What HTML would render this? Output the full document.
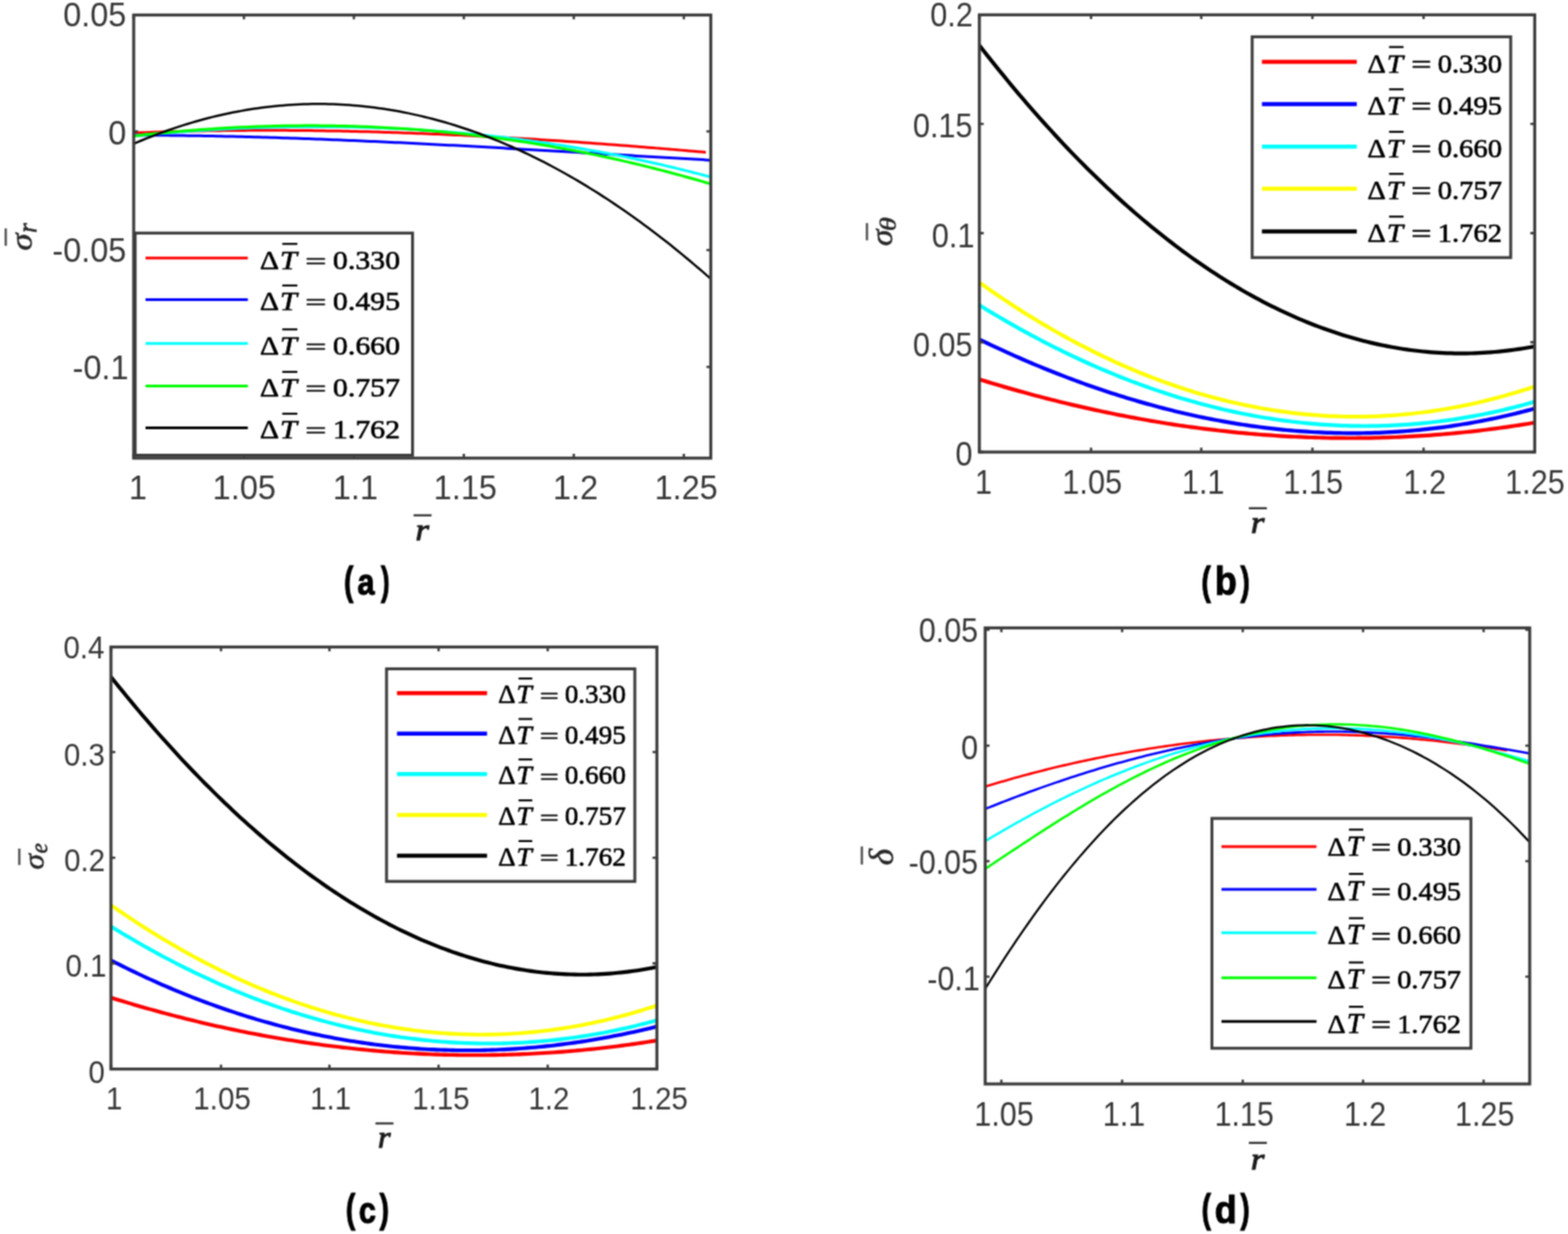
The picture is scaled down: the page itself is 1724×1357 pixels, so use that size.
<!DOCTYPE html>
<html lang="en"><head><meta charset="utf-8"><title>Figure</title>
<style>
html,body{margin:0;padding:0;background:#fff;}
body{width:1724px;height:1357px;overflow:hidden;font-family:"Liberation Sans",sans-serif;}
svg{display:block;}
text{white-space:pre;}
</style></head>
<body>
<svg xmlns="http://www.w3.org/2000/svg" width="1724" height="1357" viewBox="0 0 1724 1357">
<defs><filter id="soft" x="0" y="0" width="1724" height="1357" filterUnits="userSpaceOnUse" color-interpolation-filters="sRGB"><feConvolveMatrix order="3" kernelMatrix="1 2 1 2 4 2 1 2 1" divisor="16" edgeMode="duplicate" preserveAlpha="true"/></filter></defs>
<rect width="1724" height="1357" fill="#fff"/>
<g filter="url(#soft)">
<rect width="1724" height="1357" fill="#fff"/>
<clipPath id="ca"><rect x="147.0" y="16.5" width="634.5" height="487.3"/></clipPath>
<g clip-path="url(#ca)" fill="none" stroke-width="3.0" stroke-linejoin="round">
<path d="M147.0,146.22 L151.5,146.04 L156.1,145.86 L160.6,145.69 L165.1,145.53 L169.6,145.37 L174.2,145.22 L178.7,145.07 L183.2,144.93 L187.7,144.80 L192.3,144.67 L196.8,144.55 L201.3,144.43 L205.8,144.32 L210.4,144.22 L214.9,144.12 L219.4,144.03 L223.9,143.94 L228.5,143.86 L233.0,143.78 L237.5,143.71 L242.0,143.65 L246.6,143.59 L251.1,143.54 L255.6,143.49 L260.1,143.45 L264.7,143.41 L269.2,143.38 L273.7,143.36 L278.2,143.34 L282.8,143.32 L287.3,143.32 L291.8,143.31 L296.3,143.31 L300.9,143.32 L305.4,143.33 L309.9,143.35 L314.4,143.37 L319.0,143.40 L323.5,143.43 L328.0,143.47 L332.5,143.51 L337.1,143.56 L341.6,143.61 L346.1,143.67 L350.6,143.74 L355.2,143.80 L359.7,143.88 L364.2,143.95 L368.7,144.04 L373.3,144.12 L377.8,144.21 L382.3,144.31 L386.8,144.41 L391.4,144.52 L395.9,144.63 L400.4,144.74 L404.9,144.86 L409.5,144.99 L414.0,145.12 L418.5,145.25 L423.0,145.39 L427.6,145.53 L432.1,145.68 L436.6,145.83 L441.1,145.98 L445.7,146.14 L450.2,146.31 L454.7,146.48 L459.2,146.65 L463.8,146.83 L468.3,147.01 L472.8,147.19 L477.3,147.38 L481.9,147.57 L486.4,147.77 L490.9,147.97 L495.4,148.18 L500.0,148.39 L504.5,148.60 L509.0,148.82 L513.5,149.04 L518.1,149.26 L522.6,149.49 L527.1,149.73 L531.6,149.96 L536.2,150.20 L540.7,150.44 L545.2,150.69 L549.7,150.94 L554.3,151.20 L558.8,151.46 L563.3,151.72 L567.8,151.98 L572.4,152.25 L576.9,152.52 L581.4,152.80 L585.9,153.08 L590.5,153.36 L595.0,153.65 L599.5,153.94 L604.0,154.23 L608.6,154.52 L613.1,154.82 L617.6,155.12 L622.1,155.43 L626.7,155.74 L631.2,156.05 L635.7,156.36 L640.2,156.68 L644.8,157.00 L649.3,157.32 L653.8,157.65 L658.3,157.98 L662.9,158.31 L667.4,158.65 L671.9,158.98 L676.4,159.33 L681.0,159.67 L685.5,160.02 L690.0,160.36 L694.5,160.72 L699.1,161.07 L703.6,161.43 L708.1,161.79 L712.6,162.15 L717.2,162.51 L721.7,162.88 L726.2,163.25 L730.7,163.62 L735.3,164.00 L739.8,164.37 L744.3,164.75 L748.8,165.13 L753.4,165.52 L757.9,165.90 L762.4,166.29 L766.9,166.68 L771.5,167.08 L776.0,167.47" stroke="#ff0000"/>
<path d="M147.0,148.65 L151.6,148.66 L156.1,148.68 L160.7,148.70 L165.3,148.72 L169.8,148.75 L174.4,148.79 L179.0,148.83 L183.5,148.87 L188.1,148.92 L192.6,148.97 L197.2,149.02 L201.8,149.08 L206.3,149.15 L210.9,149.22 L215.5,149.29 L220.0,149.36 L224.6,149.44 L229.2,149.53 L233.7,149.61 L238.3,149.71 L242.9,149.80 L247.4,149.90 L252.0,150.00 L256.6,150.11 L261.1,150.22 L265.7,150.33 L270.2,150.45 L274.8,150.57 L279.4,150.69 L283.9,150.82 L288.5,150.95 L293.1,151.08 L297.6,151.22 L302.2,151.36 L306.8,151.50 L311.3,151.65 L315.9,151.80 L320.5,151.95 L325.0,152.11 L329.6,152.26 L334.2,152.43 L338.7,152.59 L343.3,152.76 L347.8,152.93 L352.4,153.10 L357.0,153.28 L361.5,153.46 L366.1,153.64 L370.7,153.82 L375.2,154.01 L379.8,154.20 L384.4,154.39 L388.9,154.58 L393.5,154.78 L398.1,154.98 L402.6,155.18 L407.2,155.38 L411.8,155.59 L416.3,155.79 L420.9,156.01 L425.4,156.22 L430.0,156.43 L434.6,156.65 L439.1,156.87 L443.7,157.09 L448.3,157.31 L452.8,157.53 L457.4,157.76 L462.0,157.99 L466.5,158.22 L471.1,158.45 L475.7,158.68 L480.2,158.92 L484.8,159.15 L489.4,159.39 L493.9,159.63 L498.5,159.87 L503.1,160.12 L507.6,160.36 L512.2,160.61 L516.7,160.85 L521.3,161.10 L525.9,161.35 L530.4,161.60 L535.0,161.85 L539.6,162.11 L544.1,162.36 L548.7,162.62 L553.3,162.87 L557.8,163.13 L562.4,163.39 L567.0,163.65 L571.5,163.91 L576.1,164.17 L580.7,164.43 L585.2,164.69 L589.8,164.96 L594.3,165.22 L598.9,165.49 L603.5,165.75 L608.0,166.02 L612.6,166.28 L617.2,166.55 L621.7,166.82 L626.3,167.08 L630.9,167.35 L635.4,167.62 L640.0,167.89 L644.6,168.16 L649.1,168.43 L653.7,168.70 L658.3,168.96 L662.8,169.23 L667.4,169.50 L671.9,169.77 L676.5,170.04 L681.1,170.31 L685.6,170.58 L690.2,170.85 L694.8,171.12 L699.3,171.39 L703.9,171.65 L708.5,171.92 L713.0,172.19 L717.6,172.46 L722.2,172.72 L726.7,172.99 L731.3,173.26 L735.9,173.52 L740.4,173.79 L745.0,174.05 L749.5,174.31 L754.1,174.58 L758.7,174.84 L763.2,175.10 L767.8,175.36 L772.4,175.62 L776.9,175.88 L781.5,176.13" stroke="#0000ff"/>
<path d="M147.0,149.37 L151.6,148.94 L156.1,148.51 L160.7,148.09 L165.3,147.68 L169.8,147.29 L174.4,146.90 L179.0,146.52 L183.5,146.15 L188.1,145.78 L192.6,145.43 L197.2,145.09 L201.8,144.76 L206.3,144.43 L210.9,144.12 L215.5,143.82 L220.0,143.52 L224.6,143.24 L229.2,142.96 L233.7,142.70 L238.3,142.44 L242.9,142.20 L247.4,141.96 L252.0,141.73 L256.6,141.52 L261.1,141.31 L265.7,141.12 L270.2,140.93 L274.8,140.76 L279.4,140.59 L283.9,140.44 L288.5,140.29 L293.1,140.16 L297.6,140.04 L302.2,139.92 L306.8,139.82 L311.3,139.73 L315.9,139.65 L320.5,139.58 L325.0,139.52 L329.6,139.47 L334.2,139.43 L338.7,139.40 L343.3,139.39 L347.8,139.38 L352.4,139.39 L357.0,139.40 L361.5,139.43 L366.1,139.47 L370.7,139.52 L375.2,139.58 L379.8,139.65 L384.4,139.73 L388.9,139.82 L393.5,139.93 L398.1,140.04 L402.6,140.17 L407.2,140.31 L411.8,140.46 L416.3,140.63 L420.9,140.80 L425.4,140.99 L430.0,141.18 L434.6,141.39 L439.1,141.61 L443.7,141.84 L448.3,142.09 L452.8,142.34 L457.4,142.61 L462.0,142.89 L466.5,143.18 L471.1,143.49 L475.7,143.80 L480.2,144.13 L484.8,144.47 L489.4,144.83 L493.9,145.19 L498.5,145.57 L503.1,145.96 L507.6,146.36 L512.2,146.77 L516.7,147.20 L521.3,147.64 L525.9,148.09 L530.4,148.56 L535.0,149.03 L539.6,149.52 L544.1,150.02 L548.7,150.54 L553.3,151.07 L557.8,151.61 L562.4,152.16 L567.0,152.73 L571.5,153.31 L576.1,153.90 L580.7,154.51 L585.2,155.13 L589.8,155.76 L594.3,156.40 L598.9,157.06 L603.5,157.73 L608.0,158.42 L612.6,159.12 L617.2,159.83 L621.7,160.55 L626.3,161.29 L630.9,162.04 L635.4,162.81 L640.0,163.59 L644.6,164.38 L649.1,165.19 L653.7,166.01 L658.3,166.84 L662.8,167.69 L667.4,168.55 L671.9,169.43 L676.5,170.32 L681.1,171.22 L685.6,172.14 L690.2,173.07 L694.8,174.02 L699.3,174.98 L703.9,175.96 L708.5,176.95 L713.0,177.95 L717.6,178.97 L722.2,180.00 L726.7,181.04 L731.3,182.11 L735.9,183.18 L740.4,184.27 L745.0,185.38 L749.5,186.49 L754.1,187.63 L758.7,188.78 L763.2,189.94 L767.8,191.12 L772.4,192.31 L776.9,193.52 L781.5,194.74" stroke="#00ffff"/>
<path d="M147.0,149.65 L151.6,149.12 L156.1,148.60 L160.7,148.09 L165.3,147.59 L169.8,147.10 L174.4,146.63 L179.0,146.17 L183.5,145.72 L188.1,145.29 L192.6,144.87 L197.2,144.46 L201.8,144.06 L206.3,143.67 L210.9,143.30 L215.5,142.94 L220.0,142.60 L224.6,142.26 L229.2,141.94 L233.7,141.63 L238.3,141.34 L242.9,141.05 L247.4,140.78 L252.0,140.53 L256.6,140.28 L261.1,140.05 L265.7,139.83 L270.2,139.63 L274.8,139.43 L279.4,139.25 L283.9,139.09 L288.5,138.93 L293.1,138.79 L297.6,138.66 L302.2,138.55 L306.8,138.45 L311.3,138.36 L315.9,138.28 L320.5,138.22 L325.0,138.17 L329.6,138.13 L334.2,138.11 L338.7,138.10 L343.3,138.10 L347.8,138.12 L352.4,138.15 L357.0,138.19 L361.5,138.24 L366.1,138.31 L370.7,138.39 L375.2,138.49 L379.8,138.60 L384.4,138.72 L388.9,138.86 L393.5,139.00 L398.1,139.17 L402.6,139.34 L407.2,139.53 L411.8,139.73 L416.3,139.95 L420.9,140.18 L425.4,140.42 L430.0,140.68 L434.6,140.94 L439.1,141.23 L443.7,141.52 L448.3,141.83 L452.8,142.16 L457.4,142.50 L462.0,142.85 L466.5,143.21 L471.1,143.59 L475.7,143.98 L480.2,144.39 L484.8,144.81 L489.4,145.24 L493.9,145.69 L498.5,146.15 L503.1,146.62 L507.6,147.11 L512.2,147.61 L516.7,148.13 L521.3,148.66 L525.9,149.20 L530.4,149.76 L535.0,150.33 L539.6,150.91 L544.1,151.51 L548.7,152.13 L553.3,152.75 L557.8,153.39 L562.4,154.05 L567.0,154.72 L571.5,155.40 L576.1,156.10 L580.7,156.81 L585.2,157.53 L589.8,158.27 L594.3,159.03 L598.9,159.79 L603.5,160.57 L608.0,161.37 L612.6,162.18 L617.2,163.01 L621.7,163.84 L626.3,164.70 L630.9,165.56 L635.4,166.44 L640.0,167.34 L644.6,168.25 L649.1,169.17 L653.7,170.11 L658.3,171.07 L662.8,172.03 L667.4,173.02 L671.9,174.01 L676.5,175.02 L681.1,176.05 L685.6,177.09 L690.2,178.14 L694.8,179.21 L699.3,180.29 L703.9,181.39 L708.5,182.50 L713.0,183.63 L717.6,184.77 L722.2,185.93 L726.7,187.10 L731.3,188.28 L735.9,189.48 L740.4,190.70 L745.0,191.93 L749.5,193.17 L754.1,194.43 L758.7,195.70 L763.2,196.99 L767.8,198.29 L772.4,199.61 L776.9,200.94 L781.5,202.29" stroke="#00ff00"/>
<path d="M147.0,158.12 L151.6,156.17 L156.1,154.26 L160.7,152.40 L165.3,150.58 L169.8,148.80 L174.4,147.08 L179.0,145.39 L183.5,143.75 L188.1,142.16 L192.6,140.61 L197.2,139.10 L201.8,137.64 L206.3,136.22 L210.9,134.85 L215.5,133.53 L220.0,132.24 L224.6,131.01 L229.2,129.81 L233.7,128.66 L238.3,127.56 L242.9,126.50 L247.4,125.48 L252.0,124.51 L256.6,123.58 L261.1,122.70 L265.7,121.86 L270.2,121.07 L274.8,120.32 L279.4,119.61 L283.9,118.95 L288.5,118.34 L293.1,117.76 L297.6,117.23 L302.2,116.75 L306.8,116.31 L311.3,115.91 L315.9,115.56 L320.5,115.25 L325.0,114.99 L329.6,114.77 L334.2,114.59 L338.7,114.46 L343.3,114.37 L347.8,114.32 L352.4,114.32 L357.0,114.36 L361.5,114.45 L366.1,114.58 L370.7,114.76 L375.2,114.97 L379.8,115.24 L384.4,115.54 L388.9,115.89 L393.5,116.28 L398.1,116.72 L402.6,117.20 L407.2,117.72 L411.8,118.29 L416.3,118.90 L420.9,119.55 L425.4,120.25 L430.0,120.99 L434.6,121.78 L439.1,122.60 L443.7,123.47 L448.3,124.39 L452.8,125.35 L457.4,126.35 L462.0,127.39 L466.5,128.48 L471.1,129.61 L475.7,130.79 L480.2,132.00 L484.8,133.26 L489.4,134.57 L493.9,135.91 L498.5,137.30 L503.1,138.74 L507.6,140.21 L512.2,141.73 L516.7,143.29 L521.3,144.90 L525.9,146.55 L530.4,148.24 L535.0,149.97 L539.6,151.75 L544.1,153.57 L548.7,155.43 L553.3,157.33 L557.8,159.28 L562.4,161.27 L567.0,163.30 L571.5,165.38 L576.1,167.50 L580.7,169.66 L585.2,171.86 L589.8,174.11 L594.3,176.40 L598.9,178.73 L603.5,181.11 L608.0,183.52 L612.6,185.98 L617.2,188.49 L621.7,191.03 L626.3,193.62 L630.9,196.25 L635.4,198.92 L640.0,201.63 L644.6,204.39 L649.1,207.19 L653.7,210.03 L658.3,212.91 L662.8,215.83 L667.4,218.80 L671.9,221.81 L676.5,224.86 L681.1,227.96 L685.6,231.09 L690.2,234.27 L694.8,237.49 L699.3,240.75 L703.9,244.06 L708.5,247.40 L713.0,250.79 L717.6,254.22 L722.2,257.70 L726.7,261.21 L731.3,264.77 L735.9,268.36 L740.4,272.00 L745.0,275.68 L749.5,279.41 L754.1,283.17 L758.7,286.98 L763.2,290.83 L767.8,294.72 L772.4,298.65 L776.9,302.62 L781.5,306.64" stroke="#000000" stroke-width="2.5"/>
</g>
<rect x="147.0" y="16.5" width="634.5" height="487.3" fill="none" stroke="#3c3c3c" stroke-width="3.3"/>
<path d="M147.0,503.8v-4.8M147.0,16.5v4.8M268.2,503.8v-4.8M268.2,16.5v4.8M389.1,503.8v-4.8M389.1,16.5v4.8M510.0,503.8v-4.8M510.0,16.5v4.8M630.9,503.8v-4.8M630.9,16.5v4.8M751.9,503.8v-4.8M751.9,16.5v4.8M147.0,16.5h4.8M781.5,16.5h-4.8M147.0,144.5h4.8M781.5,144.5h-4.8M147.0,275.0h4.8M781.5,275.0h-4.8M147.0,403.5h4.8M781.5,403.5h-4.8" stroke="#3c3c3c" stroke-width="2.6" fill="none"/>
<text transform="translate(141.81,548.84) scale(0.3570,0.3606)" font-family="'Liberation Sans', sans-serif" font-size="100" fill="#383838">1</text>
<text transform="translate(233.86,548.84) scale(0.3570,0.3606)" font-family="'Liberation Sans', sans-serif" font-size="100" fill="#383838">1.05</text>
<text transform="translate(366.01,548.84) scale(0.3570,0.3606)" font-family="'Liberation Sans', sans-serif" font-size="100" fill="#383838">1.1</text>
<text transform="translate(476.86,548.84) scale(0.3570,0.3606)" font-family="'Liberation Sans', sans-serif" font-size="100" fill="#383838">1.15</text>
<text transform="translate(607.95,548.84) scale(0.3570,0.3606)" font-family="'Liberation Sans', sans-serif" font-size="100" fill="#383838">1.2</text>
<text transform="translate(719.66,548.84) scale(0.3570,0.3606)" font-family="'Liberation Sans', sans-serif" font-size="100" fill="#383838">1.25</text>
<text transform="translate(69.50,28.74) scale(0.3570,0.3606)" font-family="'Liberation Sans', sans-serif" font-size="100" fill="#383838">0.05</text>
<text transform="translate(119.12,158.74) scale(0.3570,0.3606)" font-family="'Liberation Sans', sans-serif" font-size="100" fill="#383838">0</text>
<text transform="translate(57.54,287.94) scale(0.3570,0.3606)" font-family="'Liberation Sans', sans-serif" font-size="100" fill="#383838">-0.05</text>
<text transform="translate(79.74,417.44) scale(0.3570,0.3606)" font-family="'Liberation Sans', sans-serif" font-size="100" fill="#383838">-0.1</text>
<rect x="148.6" y="256.3" width="305.0" height="244.3" fill="#fff" stroke="#3c3c3c" stroke-width="3.2"/>
<line x1="160" y1="283.75" x2="272.5" y2="283.75" stroke="#ff0000" stroke-width="3.0"/>
<line x1="160" y1="329.5" x2="272.5" y2="329.5" stroke="#0000ff" stroke-width="3.0"/>
<line x1="160" y1="377.75" x2="272.5" y2="377.75" stroke="#00ffff" stroke-width="3.0"/>
<line x1="160" y1="424.5" x2="272.5" y2="424.5" stroke="#00ff00" stroke-width="3.0"/>
<line x1="160" y1="470.5" x2="272.5" y2="470.5" stroke="#000000" stroke-width="3.0"/>
<text transform="translate(285.64,295.60) scale(0.3273,0.2900)" font-family="'Liberation Serif', serif" font-size="100" fill="#000" stroke="#000" stroke-width="2.27" stroke-linejoin="round">Δ</text>
<text transform="translate(307.76,295.60) scale(0.3362,0.2923)" font-family="'Liberation Serif', serif" font-size="100" font-style="italic" fill="#000" stroke="#000" stroke-width="2.23" stroke-linejoin="round">T</text>
<text transform="translate(335.58,295.73) scale(0.4173,0.2614)" font-family="'Liberation Serif', serif" font-size="100" fill="#000" stroke="#000" stroke-width="2.12" stroke-linejoin="round">=</text>
<text transform="translate(366.05,295.57) scale(0.3280,0.2912)" font-family="'Liberation Serif', serif" font-size="100" fill="#000" stroke="#000" stroke-width="2.26" stroke-linejoin="round">0.330</text>
<line x1="310.36" y1="268.21" x2="326.96" y2="268.21" stroke="#000" stroke-width="2.20"/>
<text transform="translate(285.64,341.35) scale(0.3273,0.2900)" font-family="'Liberation Serif', serif" font-size="100" fill="#000" stroke="#000" stroke-width="2.27" stroke-linejoin="round">Δ</text>
<text transform="translate(307.76,341.35) scale(0.3362,0.2923)" font-family="'Liberation Serif', serif" font-size="100" font-style="italic" fill="#000" stroke="#000" stroke-width="2.23" stroke-linejoin="round">T</text>
<text transform="translate(335.58,341.48) scale(0.4173,0.2614)" font-family="'Liberation Serif', serif" font-size="100" fill="#000" stroke="#000" stroke-width="2.12" stroke-linejoin="round">=</text>
<text transform="translate(366.05,341.32) scale(0.3280,0.2912)" font-family="'Liberation Serif', serif" font-size="100" fill="#000" stroke="#000" stroke-width="2.26" stroke-linejoin="round">0.495</text>
<line x1="310.36" y1="313.96" x2="326.96" y2="313.96" stroke="#000" stroke-width="2.20"/>
<text transform="translate(285.64,389.60) scale(0.3273,0.2900)" font-family="'Liberation Serif', serif" font-size="100" fill="#000" stroke="#000" stroke-width="2.27" stroke-linejoin="round">Δ</text>
<text transform="translate(307.76,389.60) scale(0.3362,0.2923)" font-family="'Liberation Serif', serif" font-size="100" font-style="italic" fill="#000" stroke="#000" stroke-width="2.23" stroke-linejoin="round">T</text>
<text transform="translate(335.58,389.73) scale(0.4173,0.2614)" font-family="'Liberation Serif', serif" font-size="100" fill="#000" stroke="#000" stroke-width="2.12" stroke-linejoin="round">=</text>
<text transform="translate(366.05,389.57) scale(0.3280,0.2912)" font-family="'Liberation Serif', serif" font-size="100" fill="#000" stroke="#000" stroke-width="2.26" stroke-linejoin="round">0.660</text>
<line x1="310.36" y1="362.21" x2="326.96" y2="362.21" stroke="#000" stroke-width="2.20"/>
<text transform="translate(285.64,436.35) scale(0.3273,0.2900)" font-family="'Liberation Serif', serif" font-size="100" fill="#000" stroke="#000" stroke-width="2.27" stroke-linejoin="round">Δ</text>
<text transform="translate(307.76,436.35) scale(0.3362,0.2923)" font-family="'Liberation Serif', serif" font-size="100" font-style="italic" fill="#000" stroke="#000" stroke-width="2.23" stroke-linejoin="round">T</text>
<text transform="translate(335.58,436.48) scale(0.4173,0.2614)" font-family="'Liberation Serif', serif" font-size="100" fill="#000" stroke="#000" stroke-width="2.12" stroke-linejoin="round">=</text>
<text transform="translate(366.05,436.32) scale(0.3280,0.2912)" font-family="'Liberation Serif', serif" font-size="100" fill="#000" stroke="#000" stroke-width="2.26" stroke-linejoin="round">0.757</text>
<line x1="310.36" y1="408.96" x2="326.96" y2="408.96" stroke="#000" stroke-width="2.20"/>
<text transform="translate(285.64,482.35) scale(0.3273,0.2900)" font-family="'Liberation Serif', serif" font-size="100" fill="#000" stroke="#000" stroke-width="2.27" stroke-linejoin="round">Δ</text>
<text transform="translate(307.76,482.35) scale(0.3362,0.2923)" font-family="'Liberation Serif', serif" font-size="100" font-style="italic" fill="#000" stroke="#000" stroke-width="2.23" stroke-linejoin="round">T</text>
<text transform="translate(335.58,482.48) scale(0.4173,0.2614)" font-family="'Liberation Serif', serif" font-size="100" fill="#000" stroke="#000" stroke-width="2.12" stroke-linejoin="round">=</text>
<text transform="translate(366.05,482.32) scale(0.3280,0.2912)" font-family="'Liberation Serif', serif" font-size="100" fill="#000" stroke="#000" stroke-width="2.26" stroke-linejoin="round">1.762</text>
<line x1="310.36" y1="454.96" x2="326.96" y2="454.96" stroke="#000" stroke-width="2.20"/>
<text transform="translate(26.35,265.00) rotate(-90) translate(-10.54,8.71) scale(0.3798,0.3448)" font-family="'Liberation Serif', serif" font-size="100" font-style="italic" fill="#282828" stroke="#282828" stroke-width="1.66" stroke-linejoin="round">σ</text>
<text transform="translate(32.40,250.20) rotate(-90) translate(-5.90,7.15) scale(0.2743,0.3011)" font-family="'Liberation Serif', serif" font-size="100" font-style="italic" fill="#282828" stroke="#282828" stroke-width="2.09" stroke-linejoin="round">r</text>
<line x1="6.3" y1="251.2" x2="6.3" y2="270.3" stroke="#555" stroke-width="2.6"/>
<text transform="translate(456.81,594.22) scale(0.3857,0.3419)" font-family="'Liberation Serif', serif" font-size="100" font-style="italic" fill="#1c1c1c" stroke="#1c1c1c" stroke-width="3.03" stroke-linejoin="round">r</text>
<line x1="454.7" y1="566.6999999999999" x2="474.5" y2="566.6999999999999" stroke="#303030" stroke-width="2.3"/>
<text transform="translate(378.15,653.65) scale(0.3107,0.4406)" font-family="'Liberation Sans', sans-serif" font-size="100" font-weight="bold" fill="#000" stroke="#000" stroke-width="2.70" stroke-linejoin="round">(</text>
<text transform="translate(393.09,654.19) scale(0.3377,0.4055)" font-family="'Liberation Sans', sans-serif" font-size="100" font-weight="bold" fill="#000" stroke="#000" stroke-width="2.70" stroke-linejoin="round">a</text>
<text transform="translate(418.76,653.65) scale(0.2893,0.4406)" font-family="'Liberation Sans', sans-serif" font-size="100" font-weight="bold" fill="#000" stroke="#000" stroke-width="2.80" stroke-linejoin="round">)</text>
<clipPath id="cb"><rect x="1076.8" y="16.3" width="610.6000000000001" height="480.8"/></clipPath>
<g clip-path="url(#cb)" fill="none" stroke-width="4.2" stroke-linejoin="round">
<path d="M1076.8,417.18 L1081.2,418.53 L1085.6,419.88 L1090.0,421.20 L1094.4,422.52 L1098.8,423.82 L1103.2,425.11 L1107.5,426.38 L1111.9,427.64 L1116.3,428.89 L1120.7,430.12 L1125.1,431.34 L1129.5,432.54 L1133.9,433.73 L1138.3,434.91 L1142.7,436.07 L1147.1,437.22 L1151.5,438.35 L1155.9,439.47 L1160.3,440.58 L1164.7,441.67 L1169.0,442.74 L1173.4,443.81 L1177.8,444.85 L1182.2,445.89 L1186.6,446.91 L1191.0,447.91 L1195.4,448.91 L1199.8,449.88 L1204.2,450.84 L1208.6,451.79 L1213.0,452.73 L1217.4,453.65 L1221.8,454.55 L1226.2,455.44 L1230.5,456.32 L1234.9,457.18 L1239.3,458.03 L1243.7,458.86 L1248.1,459.68 L1252.5,460.48 L1256.9,461.27 L1261.3,462.05 L1265.7,462.81 L1270.1,463.55 L1274.5,464.28 L1278.9,465.00 L1283.3,465.70 L1287.7,466.39 L1292.0,467.06 L1296.4,467.71 L1300.8,468.36 L1305.2,468.98 L1309.6,469.60 L1314.0,470.19 L1318.4,470.78 L1322.8,471.35 L1327.2,471.90 L1331.6,472.44 L1336.0,472.96 L1340.4,473.47 L1344.8,473.96 L1349.2,474.44 L1353.5,474.91 L1357.9,475.35 L1362.3,475.79 L1366.7,476.21 L1371.1,476.61 L1375.5,477.00 L1379.9,477.37 L1384.3,477.73 L1388.7,478.07 L1393.1,478.40 L1397.5,478.71 L1401.9,479.01 L1406.3,479.29 L1410.7,479.56 L1415.0,479.81 L1419.4,480.05 L1423.8,480.27 L1428.2,480.47 L1432.6,480.66 L1437.0,480.84 L1441.4,481.00 L1445.8,481.14 L1450.2,481.27 L1454.6,481.38 L1459.0,481.48 L1463.4,481.56 L1467.8,481.63 L1472.2,481.68 L1476.5,481.72 L1480.9,481.74 L1485.3,481.74 L1489.7,481.73 L1494.1,481.71 L1498.5,481.66 L1502.9,481.61 L1507.3,481.53 L1511.7,481.44 L1516.1,481.34 L1520.5,481.22 L1524.9,481.08 L1529.3,480.93 L1533.7,480.76 L1538.0,480.58 L1542.4,480.38 L1546.8,480.16 L1551.2,479.93 L1555.6,479.68 L1560.0,479.42 L1564.4,479.14 L1568.8,478.85 L1573.2,478.54 L1577.6,478.21 L1582.0,477.87 L1586.4,477.51 L1590.8,477.13 L1595.2,476.74 L1599.5,476.33 L1603.9,475.91 L1608.3,475.47 L1612.7,475.02 L1617.1,474.55 L1621.5,474.06 L1625.9,473.55 L1630.3,473.03 L1634.7,472.50 L1639.1,471.94 L1643.5,471.38 L1647.9,470.79 L1652.3,470.19 L1656.7,469.57 L1661.0,468.94 L1665.4,468.29 L1669.8,467.62 L1674.2,466.94 L1678.6,466.24 L1683.0,465.52 L1687.4,464.79" stroke="#ff0000"/>
<path d="M1076.8,373.29 L1081.2,375.41 L1085.6,377.50 L1090.0,379.58 L1094.4,381.64 L1098.8,383.67 L1103.2,385.69 L1107.5,387.68 L1111.9,389.66 L1116.3,391.61 L1120.7,393.54 L1125.1,395.46 L1129.5,397.35 L1133.9,399.22 L1138.3,401.07 L1142.7,402.89 L1147.1,404.70 L1151.5,406.49 L1155.9,408.25 L1160.3,409.99 L1164.7,411.72 L1169.0,413.42 L1173.4,415.10 L1177.8,416.76 L1182.2,418.39 L1186.6,420.01 L1191.0,421.60 L1195.4,423.17 L1199.8,424.72 L1204.2,426.25 L1208.6,427.76 L1213.0,429.24 L1217.4,430.71 L1221.8,432.15 L1226.2,433.57 L1230.5,434.96 L1234.9,436.34 L1239.3,437.69 L1243.7,439.02 L1248.1,440.33 L1252.5,441.61 L1256.9,442.88 L1261.3,444.12 L1265.7,445.33 L1270.1,446.53 L1274.5,447.70 L1278.9,448.85 L1283.3,449.98 L1287.7,451.08 L1292.0,452.17 L1296.4,453.23 L1300.8,454.26 L1305.2,455.27 L1309.6,456.26 L1314.0,457.23 L1318.4,458.18 L1322.8,459.10 L1327.2,459.99 L1331.6,460.87 L1336.0,461.72 L1340.4,462.54 L1344.8,463.35 L1349.2,464.13 L1353.5,464.88 L1357.9,465.62 L1362.3,466.33 L1366.7,467.01 L1371.1,467.67 L1375.5,468.31 L1379.9,468.93 L1384.3,469.52 L1388.7,470.08 L1393.1,470.62 L1397.5,471.14 L1401.9,471.63 L1406.3,472.10 L1410.7,472.55 L1415.0,472.97 L1419.4,473.36 L1423.8,473.74 L1428.2,474.08 L1432.6,474.41 L1437.0,474.70 L1441.4,474.98 L1445.8,475.23 L1450.2,475.45 L1454.6,475.65 L1459.0,475.82 L1463.4,475.97 L1467.8,476.10 L1472.2,476.20 L1476.5,476.27 L1480.9,476.32 L1485.3,476.34 L1489.7,476.34 L1494.1,476.31 L1498.5,476.26 L1502.9,476.18 L1507.3,476.08 L1511.7,475.95 L1516.1,475.80 L1520.5,475.62 L1524.9,475.41 L1529.3,475.18 L1533.7,474.92 L1538.0,474.64 L1542.4,474.33 L1546.8,474.00 L1551.2,473.64 L1555.6,473.25 L1560.0,472.84 L1564.4,472.40 L1568.8,471.93 L1573.2,471.44 L1577.6,470.92 L1582.0,470.38 L1586.4,469.81 L1590.8,469.21 L1595.2,468.58 L1599.5,467.93 L1603.9,467.26 L1608.3,466.55 L1612.7,465.82 L1617.1,465.06 L1621.5,464.28 L1625.9,463.47 L1630.3,462.63 L1634.7,461.76 L1639.1,460.87 L1643.5,459.95 L1647.9,459.01 L1652.3,458.03 L1656.7,457.03 L1661.0,456.00 L1665.4,454.94 L1669.8,453.86 L1674.2,452.75 L1678.6,451.61 L1683.0,450.44 L1687.4,449.25" stroke="#0000ff"/>
<path d="M1076.8,335.55 L1081.2,338.25 L1085.6,340.93 L1090.0,343.58 L1094.4,346.20 L1098.8,348.80 L1103.2,351.37 L1107.5,353.91 L1111.9,356.42 L1116.3,358.91 L1120.7,361.37 L1125.1,363.80 L1129.5,366.21 L1133.9,368.59 L1138.3,370.94 L1142.7,373.26 L1147.1,375.56 L1151.5,377.83 L1155.9,380.07 L1160.3,382.28 L1164.7,384.47 L1169.0,386.63 L1173.4,388.76 L1177.8,390.86 L1182.2,392.94 L1186.6,394.99 L1191.0,397.01 L1195.4,399.00 L1199.8,400.97 L1204.2,402.90 L1208.6,404.82 L1213.0,406.70 L1217.4,408.55 L1221.8,410.38 L1226.2,412.18 L1230.5,413.95 L1234.9,415.69 L1239.3,417.41 L1243.7,419.10 L1248.1,420.76 L1252.5,422.39 L1256.9,423.99 L1261.3,425.57 L1265.7,427.12 L1270.1,428.64 L1274.5,430.13 L1278.9,431.60 L1283.3,433.03 L1287.7,434.44 L1292.0,435.82 L1296.4,437.17 L1300.8,438.49 L1305.2,439.79 L1309.6,441.05 L1314.0,442.29 L1318.4,443.50 L1322.8,444.69 L1327.2,445.84 L1331.6,446.96 L1336.0,448.06 L1340.4,449.13 L1344.8,450.17 L1349.2,451.18 L1353.5,452.16 L1357.9,453.12 L1362.3,454.05 L1366.7,454.94 L1371.1,455.81 L1375.5,456.65 L1379.9,457.46 L1384.3,458.25 L1388.7,459.00 L1393.1,459.73 L1397.5,460.42 L1401.9,461.09 L1406.3,461.73 L1410.7,462.34 L1415.0,462.93 L1419.4,463.48 L1423.8,464.00 L1428.2,464.50 L1432.6,464.97 L1437.0,465.40 L1441.4,465.81 L1445.8,466.19 L1450.2,466.54 L1454.6,466.86 L1459.0,467.16 L1463.4,467.42 L1467.8,467.66 L1472.2,467.86 L1476.5,468.04 L1480.9,468.19 L1485.3,468.30 L1489.7,468.39 L1494.1,468.45 L1498.5,468.48 L1502.9,468.48 L1507.3,468.46 L1511.7,468.40 L1516.1,468.31 L1520.5,468.20 L1524.9,468.05 L1529.3,467.88 L1533.7,467.67 L1538.0,467.44 L1542.4,467.17 L1546.8,466.88 L1551.2,466.56 L1555.6,466.21 L1560.0,465.83 L1564.4,465.42 L1568.8,464.98 L1573.2,464.51 L1577.6,464.01 L1582.0,463.48 L1586.4,462.92 L1590.8,462.33 L1595.2,461.71 L1599.5,461.06 L1603.9,460.38 L1608.3,459.67 L1612.7,458.94 L1617.1,458.17 L1621.5,457.37 L1625.9,456.54 L1630.3,455.69 L1634.7,454.80 L1639.1,453.88 L1643.5,452.93 L1647.9,451.96 L1652.3,450.95 L1656.7,449.91 L1661.0,448.84 L1665.4,447.75 L1669.8,446.62 L1674.2,445.46 L1678.6,444.27 L1683.0,443.05 L1687.4,441.80" stroke="#00ffff"/>
<path d="M1076.8,310.64 L1081.2,313.77 L1085.6,316.86 L1090.0,319.91 L1094.4,322.94 L1098.8,325.93 L1103.2,328.88 L1107.5,331.80 L1111.9,334.69 L1116.3,337.55 L1120.7,340.37 L1125.1,343.16 L1129.5,345.91 L1133.9,348.63 L1138.3,351.32 L1142.7,353.97 L1147.1,356.59 L1151.5,359.18 L1155.9,361.73 L1160.3,364.25 L1164.7,366.74 L1169.0,369.19 L1173.4,371.61 L1177.8,374.00 L1182.2,376.35 L1186.6,378.67 L1191.0,380.95 L1195.4,383.21 L1199.8,385.43 L1204.2,387.61 L1208.6,389.76 L1213.0,391.88 L1217.4,393.97 L1221.8,396.02 L1226.2,398.04 L1230.5,400.02 L1234.9,401.97 L1239.3,403.89 L1243.7,405.77 L1248.1,407.62 L1252.5,409.44 L1256.9,411.23 L1261.3,412.98 L1265.7,414.69 L1270.1,416.38 L1274.5,418.03 L1278.9,419.65 L1283.3,421.23 L1287.7,422.78 L1292.0,424.30 L1296.4,425.78 L1300.8,427.23 L1305.2,428.65 L1309.6,430.04 L1314.0,431.39 L1318.4,432.70 L1322.8,433.99 L1327.2,435.24 L1331.6,436.46 L1336.0,437.64 L1340.4,438.79 L1344.8,439.91 L1349.2,440.99 L1353.5,442.05 L1357.9,443.06 L1362.3,444.05 L1366.7,445.00 L1371.1,445.92 L1375.5,446.80 L1379.9,447.65 L1384.3,448.47 L1388.7,449.26 L1393.1,450.01 L1397.5,450.73 L1401.9,451.42 L1406.3,452.07 L1410.7,452.69 L1415.0,453.27 L1419.4,453.83 L1423.8,454.35 L1428.2,454.83 L1432.6,455.29 L1437.0,455.71 L1441.4,456.09 L1445.8,456.45 L1450.2,456.77 L1454.6,457.05 L1459.0,457.31 L1463.4,457.53 L1467.8,457.72 L1472.2,457.87 L1476.5,458.00 L1480.9,458.08 L1485.3,458.14 L1489.7,458.16 L1494.1,458.15 L1498.5,458.11 L1502.9,458.03 L1507.3,457.92 L1511.7,457.78 L1516.1,457.60 L1520.5,457.39 L1524.9,457.15 L1529.3,456.88 L1533.7,456.57 L1538.0,456.23 L1542.4,455.85 L1546.8,455.44 L1551.2,455.00 L1555.6,454.53 L1560.0,454.02 L1564.4,453.48 L1568.8,452.91 L1573.2,452.31 L1577.6,451.67 L1582.0,451.00 L1586.4,450.29 L1590.8,449.55 L1595.2,448.78 L1599.5,447.98 L1603.9,447.14 L1608.3,446.27 L1612.7,445.37 L1617.1,444.44 L1621.5,443.47 L1625.9,442.47 L1630.3,441.43 L1634.7,440.37 L1639.1,439.27 L1643.5,438.13 L1647.9,436.97 L1652.3,435.77 L1656.7,434.54 L1661.0,433.27 L1665.4,431.98 L1669.8,430.64 L1674.2,429.28 L1678.6,427.89 L1683.0,426.46 L1687.4,424.99" stroke="#ffff00"/>
<path d="M1076.8,49.87 L1081.2,55.50 L1085.6,61.09 L1090.0,66.62 L1094.4,72.11 L1098.8,77.56 L1103.2,82.95 L1107.5,88.30 L1111.9,93.60 L1116.3,98.85 L1120.7,104.05 L1125.1,109.20 L1129.5,114.31 L1133.9,119.37 L1138.3,124.38 L1142.7,129.35 L1147.1,134.27 L1151.5,139.13 L1155.9,143.96 L1160.3,148.73 L1164.7,153.46 L1169.0,158.13 L1173.4,162.77 L1177.8,167.35 L1182.2,171.89 L1186.6,176.37 L1191.0,180.81 L1195.4,185.21 L1199.8,189.55 L1204.2,193.85 L1208.6,198.10 L1213.0,202.31 L1217.4,206.46 L1221.8,210.57 L1226.2,214.63 L1230.5,218.65 L1234.9,222.62 L1239.3,226.54 L1243.7,230.41 L1248.1,234.23 L1252.5,238.01 L1256.9,241.74 L1261.3,245.42 L1265.7,249.06 L1270.1,252.65 L1274.5,256.19 L1278.9,259.69 L1283.3,263.13 L1287.7,266.53 L1292.0,269.89 L1296.4,273.19 L1300.8,276.45 L1305.2,279.66 L1309.6,282.83 L1314.0,285.95 L1318.4,289.02 L1322.8,292.04 L1327.2,295.02 L1331.6,297.95 L1336.0,300.83 L1340.4,303.67 L1344.8,306.46 L1349.2,309.20 L1353.5,311.89 L1357.9,314.54 L1362.3,317.14 L1366.7,319.70 L1371.1,322.21 L1375.5,324.67 L1379.9,327.08 L1384.3,329.45 L1388.7,331.77 L1393.1,334.05 L1397.5,336.27 L1401.9,338.46 L1406.3,340.59 L1410.7,342.68 L1415.0,344.72 L1419.4,346.71 L1423.8,348.66 L1428.2,350.56 L1432.6,352.42 L1437.0,354.23 L1441.4,355.99 L1445.8,357.70 L1450.2,359.37 L1454.6,360.99 L1459.0,362.57 L1463.4,364.10 L1467.8,365.58 L1472.2,367.02 L1476.5,368.41 L1480.9,369.75 L1485.3,371.05 L1489.7,372.30 L1494.1,373.50 L1498.5,374.66 L1502.9,375.77 L1507.3,376.84 L1511.7,377.86 L1516.1,378.83 L1520.5,379.76 L1524.9,380.64 L1529.3,381.48 L1533.7,382.26 L1538.0,383.01 L1542.4,383.70 L1546.8,384.35 L1551.2,384.96 L1555.6,385.51 L1560.0,386.03 L1564.4,386.49 L1568.8,386.91 L1573.2,387.29 L1577.6,387.61 L1582.0,387.89 L1586.4,388.13 L1590.8,388.32 L1595.2,388.46 L1599.5,388.56 L1603.9,388.61 L1608.3,388.62 L1612.7,388.58 L1617.1,388.50 L1621.5,388.36 L1625.9,388.19 L1630.3,387.96 L1634.7,387.69 L1639.1,387.38 L1643.5,387.02 L1647.9,386.61 L1652.3,386.16 L1656.7,385.67 L1661.0,385.12 L1665.4,384.53 L1669.8,383.90 L1674.2,383.22 L1678.6,382.49 L1683.0,381.72 L1687.4,380.91" stroke="#000000"/>
</g>
<rect x="1076.8" y="16.3" width="610.6000000000001" height="480.8" fill="none" stroke="#3c3c3c" stroke-width="3.3"/>
<path d="M1076.8,497.1v-4.8M1076.8,16.3v4.8M1199.6,497.1v-4.8M1199.6,16.3v4.8M1320.8,497.1v-4.8M1320.8,16.3v4.8M1443.0,497.1v-4.8M1443.0,16.3v4.8M1565.2,497.1v-4.8M1565.2,16.3v4.8M1687.4,497.1v-4.8M1687.4,16.3v4.8M1076.8,16.3h4.8M1687.4,16.3h-4.8M1076.8,136.2h4.8M1687.4,136.2h-4.8M1076.8,256.4h4.8M1687.4,256.4h-4.8M1076.8,376.4h4.8M1687.4,376.4h-4.8M1076.8,497.1h4.8M1687.4,497.1h-4.8" stroke="#3c3c3c" stroke-width="2.6" fill="none"/>
<text transform="translate(1071.93,542.53) scale(0.3375,0.3704)" font-family="'Liberation Sans', sans-serif" font-size="100" fill="#383838">1</text>
<text transform="translate(1167.99,542.53) scale(0.3375,0.3704)" font-family="'Liberation Sans', sans-serif" font-size="100" fill="#383838">1.05</text>
<text transform="translate(1299.44,542.53) scale(0.3375,0.3704)" font-family="'Liberation Sans', sans-serif" font-size="100" fill="#383838">1.1</text>
<text transform="translate(1411.09,542.53) scale(0.3375,0.3704)" font-family="'Liberation Sans', sans-serif" font-size="100" fill="#383838">1.15</text>
<text transform="translate(1543.03,542.53) scale(0.3375,0.3704)" font-family="'Liberation Sans', sans-serif" font-size="100" fill="#383838">1.2</text>
<text transform="translate(1654.79,542.53) scale(0.3375,0.3704)" font-family="'Liberation Sans', sans-serif" font-size="100" fill="#383838">1.25</text>
<text transform="translate(1022.78,28.58) scale(0.3375,0.3704)" font-family="'Liberation Sans', sans-serif" font-size="100" fill="#383838">0.2</text>
<text transform="translate(1003.71,151.38) scale(0.3375,0.3704)" font-family="'Liberation Sans', sans-serif" font-size="100" fill="#383838">0.15</text>
<text transform="translate(1024.51,271.98) scale(0.3375,0.3704)" font-family="'Liberation Sans', sans-serif" font-size="100" fill="#383838">0.1</text>
<text transform="translate(1003.71,391.68) scale(0.3375,0.3704)" font-family="'Liberation Sans', sans-serif" font-size="100" fill="#383838">0.05</text>
<text transform="translate(1050.62,512.18) scale(0.3375,0.3704)" font-family="'Liberation Sans', sans-serif" font-size="100" fill="#383838">0</text>
<rect x="1376.75" y="40.5" width="284.25" height="242.75" fill="#fff" stroke="#3c3c3c" stroke-width="3.2"/>
<line x1="1387.5" y1="68" x2="1491.75" y2="68" stroke="#ff0000" stroke-width="4.6"/>
<line x1="1387.5" y1="114.5" x2="1491.75" y2="114.5" stroke="#0000ff" stroke-width="4.6"/>
<line x1="1387.5" y1="161.25" x2="1491.75" y2="161.25" stroke="#00ffff" stroke-width="4.6"/>
<line x1="1387.5" y1="207.5" x2="1491.75" y2="207.5" stroke="#ffff00" stroke-width="4.6"/>
<line x1="1387.5" y1="254.5" x2="1491.75" y2="254.5" stroke="#000000" stroke-width="4.6"/>
<text transform="translate(1503.60,79.65) scale(0.3132,0.2960)" font-family="'Liberation Serif', serif" font-size="100" fill="#000" stroke="#000" stroke-width="2.30" stroke-linejoin="round">Δ</text>
<text transform="translate(1524.80,79.65) scale(0.3217,0.2983)" font-family="'Liberation Serif', serif" font-size="100" font-style="italic" fill="#000" stroke="#000" stroke-width="2.26" stroke-linejoin="round">T</text>
<text transform="translate(1551.47,79.80) scale(0.3994,0.2672)" font-family="'Liberation Serif', serif" font-size="100" fill="#000" stroke="#000" stroke-width="2.14" stroke-linejoin="round">=</text>
<text transform="translate(1580.68,79.61) scale(0.3143,0.2972)" font-family="'Liberation Serif', serif" font-size="100" fill="#000" stroke="#000" stroke-width="2.29" stroke-linejoin="round">0.330</text>
<line x1="1527.28" y1="51.71" x2="1543.19" y2="51.71" stroke="#000" stroke-width="2.20"/>
<text transform="translate(1503.60,126.15) scale(0.3132,0.2960)" font-family="'Liberation Serif', serif" font-size="100" fill="#000" stroke="#000" stroke-width="2.30" stroke-linejoin="round">Δ</text>
<text transform="translate(1524.80,126.15) scale(0.3217,0.2983)" font-family="'Liberation Serif', serif" font-size="100" font-style="italic" fill="#000" stroke="#000" stroke-width="2.26" stroke-linejoin="round">T</text>
<text transform="translate(1551.47,126.30) scale(0.3994,0.2672)" font-family="'Liberation Serif', serif" font-size="100" fill="#000" stroke="#000" stroke-width="2.14" stroke-linejoin="round">=</text>
<text transform="translate(1580.68,126.11) scale(0.3143,0.2972)" font-family="'Liberation Serif', serif" font-size="100" fill="#000" stroke="#000" stroke-width="2.29" stroke-linejoin="round">0.495</text>
<line x1="1527.28" y1="98.21" x2="1543.19" y2="98.21" stroke="#000" stroke-width="2.20"/>
<text transform="translate(1503.60,172.90) scale(0.3132,0.2960)" font-family="'Liberation Serif', serif" font-size="100" fill="#000" stroke="#000" stroke-width="2.30" stroke-linejoin="round">Δ</text>
<text transform="translate(1524.80,172.90) scale(0.3217,0.2983)" font-family="'Liberation Serif', serif" font-size="100" font-style="italic" fill="#000" stroke="#000" stroke-width="2.26" stroke-linejoin="round">T</text>
<text transform="translate(1551.47,173.05) scale(0.3994,0.2672)" font-family="'Liberation Serif', serif" font-size="100" fill="#000" stroke="#000" stroke-width="2.14" stroke-linejoin="round">=</text>
<text transform="translate(1580.68,172.86) scale(0.3143,0.2972)" font-family="'Liberation Serif', serif" font-size="100" fill="#000" stroke="#000" stroke-width="2.29" stroke-linejoin="round">0.660</text>
<line x1="1527.28" y1="144.96" x2="1543.19" y2="144.96" stroke="#000" stroke-width="2.20"/>
<text transform="translate(1503.60,219.15) scale(0.3132,0.2960)" font-family="'Liberation Serif', serif" font-size="100" fill="#000" stroke="#000" stroke-width="2.30" stroke-linejoin="round">Δ</text>
<text transform="translate(1524.80,219.15) scale(0.3217,0.2983)" font-family="'Liberation Serif', serif" font-size="100" font-style="italic" fill="#000" stroke="#000" stroke-width="2.26" stroke-linejoin="round">T</text>
<text transform="translate(1551.47,219.30) scale(0.3994,0.2672)" font-family="'Liberation Serif', serif" font-size="100" fill="#000" stroke="#000" stroke-width="2.14" stroke-linejoin="round">=</text>
<text transform="translate(1580.68,219.11) scale(0.3143,0.2972)" font-family="'Liberation Serif', serif" font-size="100" fill="#000" stroke="#000" stroke-width="2.29" stroke-linejoin="round">0.757</text>
<line x1="1527.28" y1="191.21" x2="1543.19" y2="191.21" stroke="#000" stroke-width="2.20"/>
<text transform="translate(1503.60,266.15) scale(0.3132,0.2960)" font-family="'Liberation Serif', serif" font-size="100" fill="#000" stroke="#000" stroke-width="2.30" stroke-linejoin="round">Δ</text>
<text transform="translate(1524.80,266.15) scale(0.3217,0.2983)" font-family="'Liberation Serif', serif" font-size="100" font-style="italic" fill="#000" stroke="#000" stroke-width="2.26" stroke-linejoin="round">T</text>
<text transform="translate(1551.47,266.30) scale(0.3994,0.2672)" font-family="'Liberation Serif', serif" font-size="100" fill="#000" stroke="#000" stroke-width="2.14" stroke-linejoin="round">=</text>
<text transform="translate(1580.68,266.11) scale(0.3143,0.2972)" font-family="'Liberation Serif', serif" font-size="100" fill="#000" stroke="#000" stroke-width="2.29" stroke-linejoin="round">1.762</text>
<line x1="1527.28" y1="238.21" x2="1543.19" y2="238.21" stroke="#000" stroke-width="2.20"/>
<text transform="translate(972.70,260.25) rotate(-90) translate(-10.15,8.27) scale(0.3657,0.3276)" font-family="'Liberation Serif', serif" font-size="100" font-style="italic" fill="#282828" stroke="#282828" stroke-width="1.73" stroke-linejoin="round">σ</text>
<text transform="translate(976.15,246.10) rotate(-90) translate(-8.17,8.99) scale(0.3143,0.2606)" font-family="'Liberation Serif', serif" font-size="100" font-style="italic" fill="#282828" stroke="#282828" stroke-width="2.10" stroke-linejoin="round">θ</text>
<line x1="953.2" y1="245.3" x2="953.2" y2="264.3" stroke="#555" stroke-width="2.6"/>
<text transform="translate(1375.21,586.42) scale(0.3857,0.3419)" font-family="'Liberation Serif', serif" font-size="100" font-style="italic" fill="#1c1c1c" stroke="#1c1c1c" stroke-width="3.03" stroke-linejoin="round">r</text>
<line x1="1373.1" y1="558.9" x2="1392.8999999999999" y2="558.9" stroke="#303030" stroke-width="2.3"/>
<text transform="translate(1321.05,653.65) scale(0.3107,0.4406)" font-family="'Liberation Sans', sans-serif" font-size="100" font-weight="bold" fill="#000" stroke="#000" stroke-width="2.70" stroke-linejoin="round">(</text>
<text transform="translate(1335.63,654.16) scale(0.3960,0.4354)" font-family="'Liberation Sans', sans-serif" font-size="100" font-weight="bold" fill="#000" stroke="#000" stroke-width="2.41" stroke-linejoin="round">b</text>
<text transform="translate(1363.74,653.65) scale(0.3107,0.4406)" font-family="'Liberation Sans', sans-serif" font-size="100" font-weight="bold" fill="#000" stroke="#000" stroke-width="2.70" stroke-linejoin="round">)</text>
<clipPath id="cc"><rect x="122.0" y="711.5" width="600.25" height="464.0999999999999"/></clipPath>
<g clip-path="url(#cc)" fill="none" stroke-width="4.1" stroke-linejoin="round">
<path d="M122.0,1097.07 L126.3,1098.42 L130.6,1099.75 L135.0,1101.07 L139.3,1102.37 L143.6,1103.66 L147.9,1104.93 L152.2,1106.19 L156.5,1107.44 L160.9,1108.67 L165.2,1109.88 L169.5,1111.09 L173.8,1112.28 L178.1,1113.45 L182.5,1114.61 L186.8,1115.75 L191.1,1116.88 L195.4,1118.00 L199.7,1119.10 L204.0,1120.19 L208.4,1121.26 L212.7,1122.32 L217.0,1123.37 L221.3,1124.40 L225.6,1125.41 L230.0,1126.42 L234.3,1127.40 L238.6,1128.38 L242.9,1129.33 L247.2,1130.28 L251.6,1131.21 L255.9,1132.12 L260.2,1133.02 L264.5,1133.91 L268.8,1134.78 L273.1,1135.64 L277.5,1136.48 L281.8,1137.31 L286.1,1138.12 L290.4,1138.92 L294.7,1139.70 L299.1,1140.47 L303.4,1141.23 L307.7,1141.97 L312.0,1142.70 L316.3,1143.41 L320.6,1144.10 L325.0,1144.79 L329.3,1145.45 L333.6,1146.11 L337.9,1146.75 L342.2,1147.37 L346.6,1147.98 L350.9,1148.58 L355.2,1149.16 L359.5,1149.72 L363.8,1150.27 L368.1,1150.81 L372.5,1151.33 L376.8,1151.84 L381.1,1152.33 L385.4,1152.81 L389.7,1153.27 L394.1,1153.72 L398.4,1154.15 L402.7,1154.57 L407.0,1154.97 L411.3,1155.36 L415.6,1155.74 L420.0,1156.10 L424.3,1156.44 L428.6,1156.77 L432.9,1157.09 L437.2,1157.39 L441.6,1157.68 L445.9,1157.95 L450.2,1158.20 L454.5,1158.45 L458.8,1158.67 L463.1,1158.89 L467.5,1159.08 L471.8,1159.26 L476.1,1159.43 L480.4,1159.59 L484.7,1159.72 L489.1,1159.85 L493.4,1159.95 L497.7,1160.05 L502.0,1160.13 L506.3,1160.19 L510.7,1160.24 L515.0,1160.27 L519.3,1160.29 L523.6,1160.29 L527.9,1160.28 L532.2,1160.26 L536.6,1160.22 L540.9,1160.16 L545.2,1160.09 L549.5,1160.00 L553.8,1159.90 L558.2,1159.79 L562.5,1159.66 L566.8,1159.51 L571.1,1159.35 L575.4,1159.17 L579.7,1158.98 L584.1,1158.78 L588.4,1158.56 L592.7,1158.32 L597.0,1158.07 L601.3,1157.80 L605.7,1157.52 L610.0,1157.23 L614.3,1156.91 L618.6,1156.59 L622.9,1156.25 L627.2,1155.89 L631.6,1155.52 L635.9,1155.13 L640.2,1154.73 L644.5,1154.31 L648.8,1153.88 L653.2,1153.43 L657.5,1152.97 L661.8,1152.49 L666.1,1152.00 L670.4,1151.49 L674.7,1150.97 L679.1,1150.43 L683.4,1149.88 L687.7,1149.31 L692.0,1148.72 L696.3,1148.12 L700.7,1147.51 L705.0,1146.88 L709.3,1146.23 L713.6,1145.57 L717.9,1144.90 L722.2,1144.21" stroke="#ff0000"/>
<path d="M122.0,1056.06 L126.3,1058.27 L130.6,1060.45 L135.0,1062.61 L139.3,1064.74 L143.6,1066.85 L147.9,1068.93 L152.2,1070.98 L156.5,1073.01 L160.9,1075.02 L165.2,1076.99 L169.5,1078.95 L173.8,1080.87 L178.1,1082.77 L182.5,1084.65 L186.8,1086.50 L191.1,1088.33 L195.4,1090.13 L199.7,1091.90 L204.0,1093.65 L208.4,1095.37 L212.7,1097.07 L217.0,1098.74 L221.3,1100.39 L225.6,1102.02 L230.0,1103.61 L234.3,1105.19 L238.6,1106.73 L242.9,1108.26 L247.2,1109.75 L251.6,1111.23 L255.9,1112.67 L260.2,1114.10 L264.5,1115.49 L268.8,1116.87 L273.1,1118.22 L277.5,1119.54 L281.8,1120.84 L286.1,1122.11 L290.4,1123.36 L294.7,1124.58 L299.1,1125.78 L303.4,1126.96 L307.7,1128.11 L312.0,1129.24 L316.3,1130.34 L320.6,1131.42 L325.0,1132.47 L329.3,1133.50 L333.6,1134.50 L337.9,1135.48 L342.2,1136.44 L346.6,1137.37 L350.9,1138.27 L355.2,1139.16 L359.5,1140.01 L363.8,1140.85 L368.1,1141.66 L372.5,1142.44 L376.8,1143.21 L381.1,1143.94 L385.4,1144.66 L389.7,1145.35 L394.1,1146.01 L398.4,1146.65 L402.7,1147.27 L407.0,1147.87 L411.3,1148.44 L415.6,1148.98 L420.0,1149.50 L424.3,1150.00 L428.6,1150.48 L432.9,1150.93 L437.2,1151.36 L441.6,1151.76 L445.9,1152.14 L450.2,1152.50 L454.5,1152.83 L458.8,1153.14 L463.1,1153.43 L467.5,1153.69 L471.8,1153.93 L476.1,1154.15 L480.4,1154.34 L484.7,1154.51 L489.1,1154.66 L493.4,1154.78 L497.7,1154.88 L502.0,1154.96 L506.3,1155.01 L510.7,1155.04 L515.0,1155.05 L519.3,1155.03 L523.6,1154.99 L527.9,1154.93 L532.2,1154.85 L536.6,1154.74 L540.9,1154.61 L545.2,1154.46 L549.5,1154.28 L553.8,1154.08 L558.2,1153.86 L562.5,1153.61 L566.8,1153.35 L571.1,1153.06 L575.4,1152.74 L579.7,1152.41 L584.1,1152.05 L588.4,1151.67 L592.7,1151.27 L597.0,1150.84 L601.3,1150.39 L605.7,1149.92 L610.0,1149.43 L614.3,1148.91 L618.6,1148.38 L622.9,1147.82 L627.2,1147.23 L631.6,1146.63 L635.9,1146.00 L640.2,1145.35 L644.5,1144.68 L648.8,1143.99 L653.2,1143.27 L657.5,1142.53 L661.8,1141.78 L666.1,1140.99 L670.4,1140.19 L674.7,1139.36 L679.1,1138.52 L683.4,1137.65 L687.7,1136.76 L692.0,1135.84 L696.3,1134.91 L700.7,1133.95 L705.0,1132.97 L709.3,1131.97 L713.6,1130.95 L717.9,1129.91 L722.2,1128.84" stroke="#0000ff"/>
<path d="M122.0,1018.77 L126.3,1021.43 L130.6,1024.06 L135.0,1026.67 L139.3,1029.25 L143.6,1031.80 L147.9,1034.32 L152.2,1036.81 L156.5,1039.28 L160.9,1041.71 L165.2,1044.13 L169.5,1046.51 L173.8,1048.86 L178.1,1051.19 L182.5,1053.49 L186.8,1055.76 L191.1,1058.01 L195.4,1060.22 L199.7,1062.41 L204.0,1064.57 L208.4,1066.71 L212.7,1068.81 L217.0,1070.89 L221.3,1072.94 L225.6,1074.96 L230.0,1076.96 L234.3,1078.92 L238.6,1080.86 L242.9,1082.77 L247.2,1084.66 L251.6,1086.51 L255.9,1088.34 L260.2,1090.14 L264.5,1091.91 L268.8,1093.66 L273.1,1095.38 L277.5,1097.06 L281.8,1098.73 L286.1,1100.36 L290.4,1101.97 L294.7,1103.54 L299.1,1105.09 L303.4,1106.62 L307.7,1108.11 L312.0,1109.58 L316.3,1111.02 L320.6,1112.43 L325.0,1113.81 L329.3,1115.17 L333.6,1116.50 L337.9,1117.80 L342.2,1119.07 L346.6,1120.31 L350.9,1121.53 L355.2,1122.72 L359.5,1123.88 L363.8,1125.01 L368.1,1126.12 L372.5,1127.20 L376.8,1128.25 L381.1,1129.27 L385.4,1130.27 L389.7,1131.23 L394.1,1132.17 L398.4,1133.08 L402.7,1133.96 L407.0,1134.82 L411.3,1135.65 L415.6,1136.45 L420.0,1137.22 L424.3,1137.96 L428.6,1138.68 L432.9,1139.37 L437.2,1140.03 L441.6,1140.66 L445.9,1141.27 L450.2,1141.84 L454.5,1142.39 L458.8,1142.91 L463.1,1143.41 L467.5,1143.87 L471.8,1144.31 L476.1,1144.72 L480.4,1145.10 L484.7,1145.46 L489.1,1145.78 L493.4,1146.08 L497.7,1146.35 L502.0,1146.60 L506.3,1146.81 L510.7,1147.00 L515.0,1147.16 L519.3,1147.29 L523.6,1147.39 L527.9,1147.47 L532.2,1147.52 L536.6,1147.54 L540.9,1147.53 L545.2,1147.49 L549.5,1147.43 L553.8,1147.34 L558.2,1147.22 L562.5,1147.07 L566.8,1146.90 L571.1,1146.69 L575.4,1146.46 L579.7,1146.20 L584.1,1145.92 L588.4,1145.60 L592.7,1145.26 L597.0,1144.89 L601.3,1144.49 L605.7,1144.06 L610.0,1143.61 L614.3,1143.13 L618.6,1142.62 L622.9,1142.08 L627.2,1141.51 L631.6,1140.92 L635.9,1140.30 L640.2,1139.65 L644.5,1138.97 L648.8,1138.27 L653.2,1137.53 L657.5,1136.77 L661.8,1135.98 L666.1,1135.17 L670.4,1134.32 L674.7,1133.45 L679.1,1132.55 L683.4,1131.62 L687.7,1130.66 L692.0,1129.68 L696.3,1128.66 L700.7,1127.62 L705.0,1126.55 L709.3,1125.46 L713.6,1124.33 L717.9,1123.18 L722.2,1122.00" stroke="#00ffff"/>
<path d="M122.0,995.33 L126.3,998.34 L130.6,1001.31 L135.0,1004.25 L139.3,1007.16 L143.6,1010.03 L147.9,1012.88 L152.2,1015.69 L156.5,1018.47 L160.9,1021.22 L165.2,1023.93 L169.5,1026.62 L173.8,1029.27 L178.1,1031.89 L182.5,1034.47 L186.8,1037.03 L191.1,1039.55 L195.4,1042.04 L199.7,1044.50 L204.0,1046.93 L208.4,1049.33 L212.7,1051.69 L217.0,1054.02 L221.3,1056.32 L225.6,1058.59 L230.0,1060.82 L234.3,1063.02 L238.6,1065.20 L242.9,1067.33 L247.2,1069.44 L251.6,1071.52 L255.9,1073.56 L260.2,1075.57 L264.5,1077.55 L268.8,1079.49 L273.1,1081.41 L277.5,1083.29 L281.8,1085.14 L286.1,1086.96 L290.4,1088.75 L294.7,1090.50 L299.1,1092.22 L303.4,1093.91 L307.7,1095.57 L312.0,1097.20 L316.3,1098.79 L320.6,1100.36 L325.0,1101.89 L329.3,1103.39 L333.6,1104.85 L337.9,1106.29 L342.2,1107.69 L346.6,1109.06 L350.9,1110.40 L355.2,1111.70 L359.5,1112.98 L363.8,1114.22 L368.1,1115.43 L372.5,1116.61 L376.8,1117.75 L381.1,1118.87 L385.4,1119.95 L389.7,1121.00 L394.1,1122.02 L398.4,1123.00 L402.7,1123.96 L407.0,1124.88 L411.3,1125.77 L415.6,1126.63 L420.0,1127.45 L424.3,1128.25 L428.6,1129.01 L432.9,1129.74 L437.2,1130.44 L441.6,1131.10 L445.9,1131.74 L450.2,1132.34 L454.5,1132.91 L458.8,1133.45 L463.1,1133.95 L467.5,1134.43 L471.8,1134.87 L476.1,1135.28 L480.4,1135.66 L484.7,1136.00 L489.1,1136.32 L493.4,1136.60 L497.7,1136.85 L502.0,1137.07 L506.3,1137.25 L510.7,1137.41 L515.0,1137.53 L519.3,1137.62 L523.6,1137.68 L527.9,1137.70 L532.2,1137.70 L536.6,1137.66 L540.9,1137.59 L545.2,1137.49 L549.5,1137.35 L553.8,1137.19 L558.2,1136.99 L562.5,1136.76 L566.8,1136.50 L571.1,1136.20 L575.4,1135.88 L579.7,1135.52 L584.1,1135.13 L588.4,1134.71 L592.7,1134.25 L597.0,1133.77 L601.3,1133.25 L605.7,1132.70 L610.0,1132.12 L614.3,1131.50 L618.6,1130.86 L622.9,1130.18 L627.2,1129.47 L631.6,1128.73 L635.9,1127.96 L640.2,1127.15 L644.5,1126.31 L648.8,1125.44 L653.2,1124.54 L657.5,1123.61 L661.8,1122.64 L666.1,1121.65 L670.4,1120.62 L674.7,1119.56 L679.1,1118.46 L683.4,1117.34 L687.7,1116.18 L692.0,1114.99 L696.3,1113.77 L700.7,1112.52 L705.0,1111.23 L709.3,1109.91 L713.6,1108.56 L717.9,1107.18 L722.2,1105.77" stroke="#ffff00"/>
<path d="M122.0,744.35 L126.3,749.75 L130.6,755.11 L135.0,760.42 L139.3,765.69 L143.6,770.92 L147.9,776.10 L152.2,781.24 L156.5,786.33 L160.9,791.38 L165.2,796.38 L169.5,801.34 L173.8,806.26 L178.1,811.13 L182.5,815.95 L186.8,820.73 L191.1,825.47 L195.4,830.16 L199.7,834.81 L204.0,839.41 L208.4,843.97 L212.7,848.48 L217.0,852.95 L221.3,857.37 L225.6,861.75 L230.0,866.08 L234.3,870.37 L238.6,874.61 L242.9,878.81 L247.2,882.97 L251.6,887.08 L255.9,891.14 L260.2,895.16 L264.5,899.14 L268.8,903.07 L273.1,906.95 L277.5,910.79 L281.8,914.59 L286.1,918.34 L290.4,922.05 L294.7,925.71 L299.1,929.32 L303.4,932.89 L307.7,936.42 L312.0,939.90 L316.3,943.34 L320.6,946.73 L325.0,950.07 L329.3,953.37 L333.6,956.63 L337.9,959.84 L342.2,963.01 L346.6,966.13 L350.9,969.20 L355.2,972.23 L359.5,975.22 L363.8,978.16 L368.1,981.05 L372.5,983.90 L376.8,986.70 L381.1,989.46 L385.4,992.18 L389.7,994.85 L394.1,997.47 L398.4,1000.05 L402.7,1002.58 L407.0,1005.07 L411.3,1007.51 L415.6,1009.90 L420.0,1012.26 L424.3,1014.56 L428.6,1016.82 L432.9,1019.04 L437.2,1021.21 L441.6,1023.33 L445.9,1025.41 L450.2,1027.44 L454.5,1029.43 L458.8,1031.37 L463.1,1033.27 L467.5,1035.12 L471.8,1036.93 L476.1,1038.69 L480.4,1040.40 L484.7,1042.07 L489.1,1043.70 L493.4,1045.28 L497.7,1046.81 L502.0,1048.30 L506.3,1049.74 L510.7,1051.13 L515.0,1052.48 L519.3,1053.79 L523.6,1055.05 L527.9,1056.26 L532.2,1057.43 L536.6,1058.55 L540.9,1059.62 L545.2,1060.66 L549.5,1061.64 L553.8,1062.58 L558.2,1063.47 L562.5,1064.32 L566.8,1065.12 L571.1,1065.88 L575.4,1066.59 L579.7,1067.25 L584.1,1067.87 L588.4,1068.44 L592.7,1068.97 L597.0,1069.45 L601.3,1069.88 L605.7,1070.27 L610.0,1070.61 L614.3,1070.91 L618.6,1071.16 L622.9,1071.36 L627.2,1071.52 L631.6,1071.63 L635.9,1071.70 L640.2,1071.72 L644.5,1071.70 L648.8,1071.62 L653.2,1071.51 L657.5,1071.34 L661.8,1071.13 L666.1,1070.88 L670.4,1070.58 L674.7,1070.23 L679.1,1069.83 L683.4,1069.39 L687.7,1068.91 L692.0,1068.37 L696.3,1067.79 L700.7,1067.17 L705.0,1066.50 L709.3,1065.78 L713.6,1065.01 L717.9,1064.20 L722.2,1063.35" stroke="#000000"/>
</g>
<rect x="122.0" y="711.5" width="600.25" height="464.0999999999999" fill="none" stroke="#3c3c3c" stroke-width="3.3"/>
<path d="M122.0,1175.6v-4.8M122.0,711.5v4.8M243.0,1175.6v-4.8M243.0,711.5v4.8M362.2,1175.6v-4.8M362.2,711.5v4.8M482.2,1175.6v-4.8M482.2,711.5v4.8M602.2,1175.6v-4.8M602.2,711.5v4.8M722.25,1175.6v-4.8M722.25,711.5v4.8M122.0,711.5h4.8M722.25,711.5h-4.8M122.0,827.0h4.8M722.25,827.0h-4.8M122.0,943.3h4.8M722.25,943.3h-4.8M122.0,1059.4h4.8M722.25,1059.4h-4.8M122.0,1175.6h4.8M722.25,1175.6h-4.8" stroke="#3c3c3c" stroke-width="2.6" fill="none"/>
<text transform="translate(116.50,1219.75) scale(0.3246,0.3521)" font-family="'Liberation Sans', sans-serif" font-size="100" fill="#383838">1</text>
<text transform="translate(212.56,1219.75) scale(0.3246,0.3521)" font-family="'Liberation Sans', sans-serif" font-size="100" fill="#383838">1.05</text>
<text transform="translate(341.05,1219.75) scale(0.3246,0.3521)" font-family="'Liberation Sans', sans-serif" font-size="100" fill="#383838">1.1</text>
<text transform="translate(453.16,1219.75) scale(0.3246,0.3521)" font-family="'Liberation Sans', sans-serif" font-size="100" fill="#383838">1.15</text>
<text transform="translate(581.03,1219.75) scale(0.3246,0.3521)" font-family="'Liberation Sans', sans-serif" font-size="100" fill="#383838">1.2</text>
<text transform="translate(693.06,1219.75) scale(0.3246,0.3521)" font-family="'Liberation Sans', sans-serif" font-size="100" fill="#383838">1.25</text>
<text transform="translate(69.75,723.75) scale(0.3246,0.3521)" font-family="'Liberation Sans', sans-serif" font-size="100" fill="#383838">0.4</text>
<text transform="translate(70.23,841.85) scale(0.3246,0.3521)" font-family="'Liberation Sans', sans-serif" font-size="100" fill="#383838">0.3</text>
<text transform="translate(70.40,957.85) scale(0.3246,0.3521)" font-family="'Liberation Sans', sans-serif" font-size="100" fill="#383838">0.2</text>
<text transform="translate(71.93,1074.25) scale(0.3246,0.3521)" font-family="'Liberation Sans', sans-serif" font-size="100" fill="#383838">0.1</text>
<text transform="translate(97.18,1190.55) scale(0.3246,0.3521)" font-family="'Liberation Sans', sans-serif" font-size="100" fill="#383838">0</text>
<rect x="425.0" y="735.5" width="273.0" height="233.75" fill="#fff" stroke="#3c3c3c" stroke-width="3.2"/>
<line x1="436.5" y1="762.25" x2="535.5" y2="762.25" stroke="#ff0000" stroke-width="4.6"/>
<line x1="436.5" y1="806.75" x2="535.5" y2="806.75" stroke="#0000ff" stroke-width="4.6"/>
<line x1="436.5" y1="851.25" x2="535.5" y2="851.25" stroke="#00ffff" stroke-width="4.6"/>
<line x1="436.5" y1="896.25" x2="535.5" y2="896.25" stroke="#ffff00" stroke-width="4.6"/>
<line x1="436.5" y1="941.0" x2="535.5" y2="941.0" stroke="#000000" stroke-width="4.6"/>
<text transform="translate(547.66,773.40) scale(0.2970,0.2885)" font-family="'Liberation Serif', serif" font-size="100" fill="#000" stroke="#000" stroke-width="2.39" stroke-linejoin="round">Δ</text>
<text transform="translate(567.82,773.40) scale(0.3051,0.2908)" font-family="'Liberation Serif', serif" font-size="100" font-style="italic" fill="#000" stroke="#000" stroke-width="2.35" stroke-linejoin="round">T</text>
<text transform="translate(593.16,773.53) scale(0.3788,0.2600)" font-family="'Liberation Serif', serif" font-size="100" fill="#000" stroke="#000" stroke-width="2.23" stroke-linejoin="round">=</text>
<text transform="translate(620.92,773.37) scale(0.2986,0.2897)" font-family="'Liberation Serif', serif" font-size="100" fill="#000" stroke="#000" stroke-width="2.38" stroke-linejoin="round">0.330</text>
<line x1="570.14" y1="746.15" x2="585.27" y2="746.15" stroke="#000" stroke-width="2.20"/>
<text transform="translate(547.66,817.90) scale(0.2970,0.2885)" font-family="'Liberation Serif', serif" font-size="100" fill="#000" stroke="#000" stroke-width="2.39" stroke-linejoin="round">Δ</text>
<text transform="translate(567.82,817.90) scale(0.3051,0.2908)" font-family="'Liberation Serif', serif" font-size="100" font-style="italic" fill="#000" stroke="#000" stroke-width="2.35" stroke-linejoin="round">T</text>
<text transform="translate(593.16,818.03) scale(0.3788,0.2600)" font-family="'Liberation Serif', serif" font-size="100" fill="#000" stroke="#000" stroke-width="2.23" stroke-linejoin="round">=</text>
<text transform="translate(620.92,817.87) scale(0.2986,0.2897)" font-family="'Liberation Serif', serif" font-size="100" fill="#000" stroke="#000" stroke-width="2.38" stroke-linejoin="round">0.495</text>
<line x1="570.14" y1="790.65" x2="585.27" y2="790.65" stroke="#000" stroke-width="2.20"/>
<text transform="translate(547.66,862.40) scale(0.2970,0.2885)" font-family="'Liberation Serif', serif" font-size="100" fill="#000" stroke="#000" stroke-width="2.39" stroke-linejoin="round">Δ</text>
<text transform="translate(567.82,862.40) scale(0.3051,0.2908)" font-family="'Liberation Serif', serif" font-size="100" font-style="italic" fill="#000" stroke="#000" stroke-width="2.35" stroke-linejoin="round">T</text>
<text transform="translate(593.16,862.53) scale(0.3788,0.2600)" font-family="'Liberation Serif', serif" font-size="100" fill="#000" stroke="#000" stroke-width="2.23" stroke-linejoin="round">=</text>
<text transform="translate(620.92,862.37) scale(0.2986,0.2897)" font-family="'Liberation Serif', serif" font-size="100" fill="#000" stroke="#000" stroke-width="2.38" stroke-linejoin="round">0.660</text>
<line x1="570.14" y1="835.15" x2="585.27" y2="835.15" stroke="#000" stroke-width="2.20"/>
<text transform="translate(547.66,907.40) scale(0.2970,0.2885)" font-family="'Liberation Serif', serif" font-size="100" fill="#000" stroke="#000" stroke-width="2.39" stroke-linejoin="round">Δ</text>
<text transform="translate(567.82,907.40) scale(0.3051,0.2908)" font-family="'Liberation Serif', serif" font-size="100" font-style="italic" fill="#000" stroke="#000" stroke-width="2.35" stroke-linejoin="round">T</text>
<text transform="translate(593.16,907.53) scale(0.3788,0.2600)" font-family="'Liberation Serif', serif" font-size="100" fill="#000" stroke="#000" stroke-width="2.23" stroke-linejoin="round">=</text>
<text transform="translate(620.92,907.37) scale(0.2986,0.2897)" font-family="'Liberation Serif', serif" font-size="100" fill="#000" stroke="#000" stroke-width="2.38" stroke-linejoin="round">0.757</text>
<line x1="570.14" y1="880.15" x2="585.27" y2="880.15" stroke="#000" stroke-width="2.20"/>
<text transform="translate(547.66,952.15) scale(0.2970,0.2885)" font-family="'Liberation Serif', serif" font-size="100" fill="#000" stroke="#000" stroke-width="2.39" stroke-linejoin="round">Δ</text>
<text transform="translate(567.82,952.15) scale(0.3051,0.2908)" font-family="'Liberation Serif', serif" font-size="100" font-style="italic" fill="#000" stroke="#000" stroke-width="2.35" stroke-linejoin="round">T</text>
<text transform="translate(593.16,952.28) scale(0.3788,0.2600)" font-family="'Liberation Serif', serif" font-size="100" fill="#000" stroke="#000" stroke-width="2.23" stroke-linejoin="round">=</text>
<text transform="translate(620.92,952.12) scale(0.2986,0.2897)" font-family="'Liberation Serif', serif" font-size="100" fill="#000" stroke="#000" stroke-width="2.38" stroke-linejoin="round">1.762</text>
<line x1="570.14" y1="924.90" x2="585.27" y2="924.90" stroke="#000" stroke-width="2.20"/>
<text transform="translate(39.65,946.50) rotate(-90) translate(-9.64,8.13) scale(0.3475,0.3219)" font-family="'Liberation Serif', serif" font-size="100" font-style="italic" fill="#282828" stroke="#282828" stroke-width="1.79" stroke-linejoin="round">σ</text>
<text transform="translate(46.15,932.70) rotate(-90) translate(-5.77,6.09) scale(0.2564,0.2646)" font-family="'Liberation Serif', serif" font-size="100" font-style="italic" fill="#282828" stroke="#282828" stroke-width="2.30" stroke-linejoin="round">e</text>
<line x1="21.2" y1="933.1" x2="21.2" y2="951.3" stroke="#555" stroke-width="2.6"/>
<text transform="translate(415.52,1262.42) scale(0.3571,0.3312)" font-family="'Liberation Serif', serif" font-size="100" font-style="italic" fill="#1c1c1c" stroke="#1c1c1c" stroke-width="3.20" stroke-linejoin="round">r</text>
<line x1="412.8" y1="1235.4" x2="432.6" y2="1235.4" stroke="#303030" stroke-width="2.3"/>
<text transform="translate(380.33,1344.47) scale(0.3143,0.4396)" font-family="'Liberation Sans', sans-serif" font-size="100" font-weight="bold" fill="#000" stroke="#000" stroke-width="2.69" stroke-linejoin="round">(</text>
<text transform="translate(394.45,1345.09) scale(0.3381,0.4073)" font-family="'Liberation Sans', sans-serif" font-size="100" font-weight="bold" fill="#000" stroke="#000" stroke-width="2.69" stroke-linejoin="round">c</text>
<text transform="translate(417.14,1344.47) scale(0.3143,0.4396)" font-family="'Liberation Sans', sans-serif" font-size="100" font-weight="bold" fill="#000" stroke="#000" stroke-width="2.69" stroke-linejoin="round">)</text>
<clipPath id="cd"><rect x="1083.2" y="690.5" width="598.7" height="501.5"/></clipPath>
<g clip-path="url(#cd)" fill="none" stroke-width="2.6" stroke-linejoin="round">
<path d="M1083.2,865.08 L1087.3,863.81 L1091.5,862.56 L1095.6,861.32 L1099.7,860.09 L1103.8,858.89 L1108.0,857.69 L1112.1,856.52 L1116.2,855.36 L1120.4,854.21 L1124.5,853.09 L1128.6,851.97 L1132.7,850.87 L1136.9,849.79 L1141.0,848.72 L1145.1,847.66 L1149.2,846.62 L1153.4,845.60 L1157.5,844.58 L1161.6,843.59 L1165.8,842.60 L1169.9,841.63 L1174.0,840.68 L1178.1,839.74 L1182.3,838.81 L1186.4,837.89 L1190.5,836.99 L1194.7,836.11 L1198.8,835.23 L1202.9,834.37 L1207.0,833.53 L1211.2,832.70 L1215.3,831.88 L1219.4,831.07 L1223.6,830.28 L1227.7,829.50 L1231.8,828.73 L1235.9,827.98 L1240.1,827.24 L1244.2,826.52 L1248.3,825.81 L1252.5,825.11 L1256.6,824.42 L1260.7,823.75 L1264.8,823.09 L1269.0,822.45 L1273.1,821.82 L1277.2,821.20 L1281.3,820.59 L1285.5,820.00 L1289.6,819.42 L1293.7,818.86 L1297.9,818.31 L1302.0,817.77 L1306.1,817.25 L1310.2,816.74 L1314.4,816.25 L1318.5,815.77 L1322.6,815.30 L1326.8,814.85 L1330.9,814.41 L1335.0,813.98 L1339.1,813.57 L1343.3,813.17 L1347.4,812.79 L1351.5,812.42 L1355.7,812.06 L1359.8,811.72 L1363.9,811.40 L1368.0,811.09 L1372.2,810.79 L1376.3,810.51 L1380.4,810.24 L1384.5,809.98 L1388.7,809.74 L1392.8,809.52 L1396.9,809.31 L1401.1,809.11 L1405.2,808.93 L1409.3,808.77 L1413.4,808.62 L1417.6,808.48 L1421.7,808.36 L1425.8,808.25 L1430.0,808.16 L1434.1,808.08 L1438.2,808.02 L1442.3,807.98 L1446.5,807.94 L1450.6,807.93 L1454.7,807.93 L1458.9,807.94 L1463.0,807.97 L1467.1,808.01 L1471.2,808.07 L1475.4,808.14 L1479.5,808.23 L1483.6,808.34 L1487.7,808.45 L1491.9,808.59 L1496.0,808.74 L1500.1,808.90 L1504.3,809.08 L1508.4,809.27 L1512.5,809.48 L1516.6,809.70 L1520.8,809.94 L1524.9,810.19 L1529.0,810.46 L1533.2,810.74 L1537.3,811.04 L1541.4,811.35 L1545.5,811.67 L1549.7,812.01 L1553.8,812.36 L1557.9,812.73 L1562.1,813.11 L1566.2,813.50 L1570.3,813.91 L1574.4,814.33 L1578.6,814.77 L1582.7,815.21 L1586.8,815.67 L1591.0,816.15 L1595.1,816.63 L1599.2,817.13 L1603.3,817.64 L1607.5,818.17 L1611.6,818.70 L1615.7,819.25 L1619.8,819.81 L1624.0,820.38 L1628.1,820.96 L1632.2,821.55 L1636.4,822.16 L1640.5,822.77 L1644.6,823.39 L1648.7,824.03 L1652.9,824.67 L1657.0,825.32" stroke="#ff0000"/>
<path d="M1083.2,889.64 L1087.5,887.90 L1091.8,886.18 L1096.1,884.47 L1100.4,882.78 L1104.7,881.10 L1109.0,879.44 L1113.4,877.79 L1117.7,876.15 L1122.0,874.53 L1126.3,872.93 L1130.6,871.34 L1134.9,869.76 L1139.2,868.20 L1143.5,866.65 L1147.8,865.12 L1152.1,863.61 L1156.4,862.11 L1160.7,860.62 L1165.0,859.15 L1169.3,857.70 L1173.7,856.26 L1178.0,854.84 L1182.3,853.43 L1186.6,852.05 L1190.9,850.67 L1195.2,849.32 L1199.5,847.98 L1203.8,846.65 L1208.1,845.35 L1212.4,844.06 L1216.7,842.79 L1221.0,841.54 L1225.3,840.30 L1229.6,839.08 L1234.0,837.88 L1238.3,836.70 L1242.6,835.54 L1246.9,834.39 L1251.2,833.27 L1255.5,832.16 L1259.8,831.08 L1264.1,830.01 L1268.4,828.96 L1272.7,827.93 L1277.0,826.92 L1281.3,825.93 L1285.6,824.96 L1289.9,824.02 L1294.3,823.09 L1298.6,822.18 L1302.9,821.30 L1307.2,820.43 L1311.5,819.59 L1315.8,818.77 L1320.1,817.97 L1324.4,817.19 L1328.7,816.44 L1333.0,815.70 L1337.3,814.99 L1341.6,814.30 L1345.9,813.64 L1350.2,812.99 L1354.6,812.37 L1358.9,811.77 L1363.2,811.20 L1367.5,810.65 L1371.8,810.12 L1376.1,809.61 L1380.4,809.13 L1384.7,808.67 L1389.0,808.24 L1393.3,807.83 L1397.6,807.44 L1401.9,807.07 L1406.2,806.74 L1410.5,806.42 L1414.9,806.13 L1419.2,805.86 L1423.5,805.62 L1427.8,805.40 L1432.1,805.20 L1436.4,805.03 L1440.7,804.88 L1445.0,804.76 L1449.3,804.66 L1453.6,804.58 L1457.9,804.53 L1462.2,804.50 L1466.5,804.50 L1470.8,804.52 L1475.2,804.56 L1479.5,804.63 L1483.8,804.72 L1488.1,804.83 L1492.4,804.96 L1496.7,805.12 L1501.0,805.30 L1505.3,805.50 L1509.6,805.73 L1513.9,805.97 L1518.2,806.24 L1522.5,806.53 L1526.8,806.84 L1531.1,807.18 L1535.5,807.53 L1539.8,807.90 L1544.1,808.29 L1548.4,808.71 L1552.7,809.14 L1557.0,809.59 L1561.3,810.06 L1565.6,810.55 L1569.9,811.05 L1574.2,811.57 L1578.5,812.11 L1582.8,812.67 L1587.1,813.24 L1591.4,813.83 L1595.8,814.43 L1600.1,815.05 L1604.4,815.68 L1608.7,816.32 L1613.0,816.97 L1617.3,817.64 L1621.6,818.32 L1625.9,819.01 L1630.2,819.71 L1634.5,820.42 L1638.8,821.14 L1643.1,821.86 L1647.4,822.59 L1651.7,823.33 L1656.1,824.07 L1660.4,824.82 L1664.7,825.57 L1669.0,826.33 L1673.3,827.09 L1677.6,827.84 L1681.9,828.60" stroke="#0000ff"/>
<path d="M1083.2,925.07 L1087.5,922.47 L1091.8,919.89 L1096.1,917.34 L1100.4,914.81 L1104.7,912.31 L1109.0,909.82 L1113.4,907.36 L1117.7,904.93 L1122.0,902.52 L1126.3,900.13 L1130.6,897.77 L1134.9,895.43 L1139.2,893.12 L1143.5,890.83 L1147.8,888.56 L1152.1,886.32 L1156.4,884.11 L1160.7,881.92 L1165.0,879.76 L1169.3,877.62 L1173.7,875.51 L1178.0,873.42 L1182.3,871.36 L1186.6,869.32 L1190.9,867.31 L1195.2,865.33 L1199.5,863.38 L1203.8,861.45 L1208.1,859.55 L1212.4,857.67 L1216.7,855.82 L1221.0,854.00 L1225.3,852.21 L1229.6,850.45 L1234.0,848.71 L1238.3,847.00 L1242.6,845.32 L1246.9,843.67 L1251.2,842.05 L1255.5,840.46 L1259.8,838.89 L1264.1,837.36 L1268.4,835.85 L1272.7,834.38 L1277.0,832.93 L1281.3,831.52 L1285.6,830.13 L1289.9,828.77 L1294.3,827.45 L1298.6,826.15 L1302.9,824.89 L1307.2,823.66 L1311.5,822.46 L1315.8,821.28 L1320.1,820.15 L1324.4,819.04 L1328.7,817.96 L1333.0,816.92 L1337.3,815.91 L1341.6,814.93 L1345.9,813.98 L1350.2,813.06 L1354.6,812.18 L1358.9,811.33 L1363.2,810.51 L1367.5,809.72 L1371.8,808.97 L1376.1,808.25 L1380.4,807.57 L1384.7,806.91 L1389.0,806.29 L1393.3,805.70 L1397.6,805.15 L1401.9,804.63 L1406.2,804.14 L1410.5,803.69 L1414.9,803.27 L1419.2,802.88 L1423.5,802.53 L1427.8,802.21 L1432.1,801.92 L1436.4,801.67 L1440.7,801.45 L1445.0,801.26 L1449.3,801.11 L1453.6,800.99 L1457.9,800.90 L1462.2,800.85 L1466.5,800.83 L1470.8,800.84 L1475.2,800.89 L1479.5,800.97 L1483.8,801.08 L1488.1,801.22 L1492.4,801.40 L1496.7,801.61 L1501.0,801.85 L1505.3,802.13 L1509.6,802.43 L1513.9,802.77 L1518.2,803.14 L1522.5,803.54 L1526.8,803.97 L1531.1,804.43 L1535.5,804.93 L1539.8,805.45 L1544.1,806.00 L1548.4,806.59 L1552.7,807.20 L1557.0,807.84 L1561.3,808.51 L1565.6,809.21 L1569.9,809.94 L1574.2,810.70 L1578.5,811.48 L1582.8,812.29 L1587.1,813.13 L1591.4,813.99 L1595.8,814.88 L1600.1,815.80 L1604.4,816.74 L1608.7,817.70 L1613.0,818.69 L1617.3,819.71 L1621.6,820.74 L1625.9,821.80 L1630.2,822.88 L1634.5,823.98 L1638.8,825.10 L1643.1,826.24 L1647.4,827.41 L1651.7,828.59 L1656.1,829.79 L1660.4,831.00 L1664.7,832.24 L1669.0,833.49 L1673.3,834.75 L1677.6,836.03 L1681.9,837.32" stroke="#00ffff"/>
<path d="M1083.2,955.43 L1087.5,952.57 L1091.8,949.71 L1096.1,946.85 L1100.4,943.99 L1104.7,941.13 L1109.0,938.27 L1113.4,935.42 L1117.7,932.57 L1122.0,929.73 L1126.3,926.90 L1130.6,924.07 L1134.9,921.25 L1139.2,918.45 L1143.5,915.66 L1147.8,912.88 L1152.1,910.11 L1156.4,907.36 L1160.7,904.63 L1165.0,901.91 L1169.3,899.22 L1173.7,896.54 L1178.0,893.88 L1182.3,891.25 L1186.6,888.64 L1190.9,886.05 L1195.2,883.49 L1199.5,880.95 L1203.8,878.43 L1208.1,875.95 L1212.4,873.49 L1216.7,871.06 L1221.0,868.66 L1225.3,866.29 L1229.6,863.95 L1234.0,861.65 L1238.3,859.37 L1242.6,857.13 L1246.9,854.92 L1251.2,852.75 L1255.5,850.61 L1259.8,848.50 L1264.1,846.44 L1268.4,844.41 L1272.7,842.41 L1277.0,840.46 L1281.3,838.54 L1285.6,836.66 L1289.9,834.82 L1294.3,833.02 L1298.6,831.26 L1302.9,829.54 L1307.2,827.86 L1311.5,826.23 L1315.8,824.63 L1320.1,823.08 L1324.4,821.57 L1328.7,820.10 L1333.0,818.67 L1337.3,817.29 L1341.6,815.95 L1345.9,814.66 L1350.2,813.41 L1354.6,812.20 L1358.9,811.04 L1363.2,809.92 L1367.5,808.85 L1371.8,807.82 L1376.1,806.84 L1380.4,805.90 L1384.7,805.00 L1389.0,804.16 L1393.3,803.35 L1397.6,802.59 L1401.9,801.88 L1406.2,801.21 L1410.5,800.59 L1414.9,800.02 L1419.2,799.48 L1423.5,799.00 L1427.8,798.55 L1432.1,798.16 L1436.4,797.80 L1440.7,797.50 L1445.0,797.23 L1449.3,797.01 L1453.6,796.84 L1457.9,796.71 L1462.2,796.62 L1466.5,796.57 L1470.8,796.57 L1475.2,796.61 L1479.5,796.70 L1483.8,796.82 L1488.1,796.99 L1492.4,797.20 L1496.7,797.45 L1501.0,797.74 L1505.3,798.08 L1509.6,798.45 L1513.9,798.86 L1518.2,799.31 L1522.5,799.80 L1526.8,800.33 L1531.1,800.90 L1535.5,801.50 L1539.8,802.15 L1544.1,802.82 L1548.4,803.54 L1552.7,804.29 L1557.0,805.07 L1561.3,805.89 L1565.6,806.74 L1569.9,807.62 L1574.2,808.54 L1578.5,809.49 L1582.8,810.47 L1587.1,811.48 L1591.4,812.52 L1595.8,813.59 L1600.1,814.69 L1604.4,815.81 L1608.7,816.97 L1613.0,818.14 L1617.3,819.35 L1621.6,820.58 L1625.9,821.83 L1630.2,823.11 L1634.5,824.40 L1638.8,825.72 L1643.1,827.06 L1647.4,828.42 L1651.7,829.80 L1656.1,831.20 L1660.4,832.61 L1664.7,834.04 L1669.0,835.49 L1673.3,836.95 L1677.6,838.42 L1681.9,839.91" stroke="#00ff00"/>
<path d="M1083.2,1087.44 L1087.5,1080.48 L1091.8,1073.60 L1096.1,1066.79 L1100.4,1060.07 L1104.7,1053.42 L1109.0,1046.85 L1113.4,1040.37 L1117.7,1033.96 L1122.0,1027.63 L1126.3,1021.39 L1130.6,1015.22 L1134.9,1009.14 L1139.2,1003.14 L1143.5,997.22 L1147.8,991.39 L1152.1,985.64 L1156.4,979.97 L1160.7,974.38 L1165.0,968.88 L1169.3,963.46 L1173.7,958.13 L1178.0,952.88 L1182.3,947.71 L1186.6,942.63 L1190.9,937.64 L1195.2,932.73 L1199.5,927.91 L1203.8,923.18 L1208.1,918.53 L1212.4,913.97 L1216.7,909.49 L1221.0,905.10 L1225.3,900.80 L1229.6,896.59 L1234.0,892.46 L1238.3,888.43 L1242.6,884.48 L1246.9,880.62 L1251.2,876.84 L1255.5,873.16 L1259.8,869.56 L1264.1,866.05 L1268.4,862.63 L1272.7,859.30 L1277.0,856.06 L1281.3,852.91 L1285.6,849.84 L1289.9,846.86 L1294.3,843.98 L1298.6,841.18 L1302.9,838.47 L1307.2,835.84 L1311.5,833.31 L1315.8,830.86 L1320.1,828.51 L1324.4,826.24 L1328.7,824.05 L1333.0,821.96 L1337.3,819.95 L1341.6,818.04 L1345.9,816.21 L1350.2,814.46 L1354.6,812.80 L1358.9,811.23 L1363.2,809.75 L1367.5,808.35 L1371.8,807.04 L1376.1,805.81 L1380.4,804.67 L1384.7,803.62 L1389.0,802.65 L1393.3,801.76 L1397.6,800.96 L1401.9,800.24 L1406.2,799.61 L1410.5,799.06 L1414.9,798.59 L1419.2,798.21 L1423.5,797.91 L1427.8,797.69 L1432.1,797.56 L1436.4,797.50 L1440.7,797.53 L1445.0,797.64 L1449.3,797.83 L1453.6,798.10 L1457.9,798.45 L1462.2,798.88 L1466.5,799.39 L1470.8,799.97 L1475.2,800.64 L1479.5,801.39 L1483.8,802.22 L1488.1,803.12 L1492.4,804.10 L1496.7,805.16 L1501.0,806.30 L1505.3,807.52 L1509.6,808.81 L1513.9,810.19 L1518.2,811.63 L1522.5,813.16 L1526.8,814.76 L1531.1,816.45 L1535.5,818.20 L1539.8,820.04 L1544.1,821.95 L1548.4,823.94 L1552.7,826.01 L1557.0,828.15 L1561.3,830.38 L1565.6,832.68 L1569.9,835.06 L1574.2,837.51 L1578.5,840.05 L1582.8,842.67 L1587.1,845.36 L1591.4,848.14 L1595.8,850.99 L1600.1,853.93 L1604.4,856.95 L1608.7,860.05 L1613.0,863.23 L1617.3,866.50 L1621.6,869.86 L1625.9,873.29 L1630.2,876.82 L1634.5,880.43 L1638.8,884.14 L1643.1,887.93 L1647.4,891.81 L1651.7,895.79 L1656.1,899.86 L1660.4,904.02 L1664.7,908.28 L1669.0,912.64 L1673.3,917.10 L1677.6,921.66 L1681.9,926.33" stroke="#000000" stroke-width="2.3"/>
</g>
<rect x="1083.2" y="690.5" width="598.7" height="501.5" fill="none" stroke="#3c3c3c" stroke-width="3.3"/>
<path d="M1101.0,1192.0v-4.8M1101.0,690.5v4.8M1233.8,1192.0v-4.8M1233.8,690.5v4.8M1366.4,1192.0v-4.8M1366.4,690.5v4.8M1498.7,1192.0v-4.8M1498.7,690.5v4.8M1631.2,1192.0v-4.8M1631.2,690.5v4.8M1083.2,692.5h4.8M1681.9,692.5h-4.8M1083.2,820.0h4.8M1681.9,820.0h-4.8M1083.2,947.0h4.8M1681.9,947.0h-4.8M1083.2,1074.0h4.8M1681.9,1074.0h-4.8" stroke="#3c3c3c" stroke-width="2.6" fill="none"/>
<text transform="translate(1071.36,1238.13) scale(0.3348,0.3732)" font-family="'Liberation Sans', sans-serif" font-size="100" fill="#383838">1.05</text>
<text transform="translate(1212.61,1238.13) scale(0.3348,0.3732)" font-family="'Liberation Sans', sans-serif" font-size="100" fill="#383838">1.1</text>
<text transform="translate(1335.46,1238.13) scale(0.3348,0.3732)" font-family="'Liberation Sans', sans-serif" font-size="100" fill="#383838">1.15</text>
<text transform="translate(1477.71,1238.13) scale(0.3348,0.3732)" font-family="'Liberation Sans', sans-serif" font-size="100" fill="#383838">1.2</text>
<text transform="translate(1599.86,1238.13) scale(0.3348,0.3732)" font-family="'Liberation Sans', sans-serif" font-size="100" fill="#383838">1.25</text>
<text transform="translate(1010.22,705.88) scale(0.3348,0.3732)" font-family="'Liberation Sans', sans-serif" font-size="100" fill="#383838">0.05</text>
<text transform="translate(1056.76,835.08) scale(0.3348,0.3732)" font-family="'Liberation Sans', sans-serif" font-size="100" fill="#383838">0</text>
<text transform="translate(999.01,961.08) scale(0.3348,0.3732)" font-family="'Liberation Sans', sans-serif" font-size="100" fill="#383838">-0.05</text>
<text transform="translate(1019.61,1089.08) scale(0.3348,0.3732)" font-family="'Liberation Sans', sans-serif" font-size="100" fill="#383838">-0.1</text>
<rect x="1332.5" y="900.0" width="284.75" height="252.75" fill="#fff" stroke="#3c3c3c" stroke-width="3.2"/>
<line x1="1343" y1="931" x2="1447.5" y2="931" stroke="#ff0000" stroke-width="3.0"/>
<line x1="1343" y1="978" x2="1447.5" y2="978" stroke="#0000ff" stroke-width="3.0"/>
<line x1="1343" y1="1025.75" x2="1447.5" y2="1025.75" stroke="#00ffff" stroke-width="3.0"/>
<line x1="1343" y1="1075.25" x2="1447.5" y2="1075.25" stroke="#00ff00" stroke-width="3.0"/>
<line x1="1343" y1="1123.25" x2="1447.5" y2="1123.25" stroke="#000000" stroke-width="3.0"/>
<text transform="translate(1459.61,940.95) scale(0.3110,0.3035)" font-family="'Liberation Serif', serif" font-size="100" fill="#000" stroke="#000" stroke-width="2.28" stroke-linejoin="round">Δ</text>
<text transform="translate(1480.67,940.95) scale(0.3195,0.3058)" font-family="'Liberation Serif', serif" font-size="100" font-style="italic" fill="#000" stroke="#000" stroke-width="2.24" stroke-linejoin="round">T</text>
<text transform="translate(1507.15,941.12) scale(0.3966,0.2744)" font-family="'Liberation Serif', serif" font-size="100" fill="#000" stroke="#000" stroke-width="2.12" stroke-linejoin="round">=</text>
<text transform="translate(1536.16,940.91) scale(0.3122,0.3047)" font-family="'Liberation Serif', serif" font-size="100" fill="#000" stroke="#000" stroke-width="2.27" stroke-linejoin="round">0.330</text>
<line x1="1483.12" y1="912.32" x2="1498.92" y2="912.32" stroke="#000" stroke-width="2.20"/>
<text transform="translate(1459.61,989.65) scale(0.3110,0.3035)" font-family="'Liberation Serif', serif" font-size="100" fill="#000" stroke="#000" stroke-width="2.28" stroke-linejoin="round">Δ</text>
<text transform="translate(1480.67,989.65) scale(0.3195,0.3058)" font-family="'Liberation Serif', serif" font-size="100" font-style="italic" fill="#000" stroke="#000" stroke-width="2.24" stroke-linejoin="round">T</text>
<text transform="translate(1507.15,989.82) scale(0.3966,0.2744)" font-family="'Liberation Serif', serif" font-size="100" fill="#000" stroke="#000" stroke-width="2.12" stroke-linejoin="round">=</text>
<text transform="translate(1536.16,989.61) scale(0.3122,0.3047)" font-family="'Liberation Serif', serif" font-size="100" fill="#000" stroke="#000" stroke-width="2.27" stroke-linejoin="round">0.495</text>
<line x1="1483.12" y1="961.02" x2="1498.92" y2="961.02" stroke="#000" stroke-width="2.20"/>
<text transform="translate(1459.61,1038.35) scale(0.3110,0.3035)" font-family="'Liberation Serif', serif" font-size="100" fill="#000" stroke="#000" stroke-width="2.28" stroke-linejoin="round">Δ</text>
<text transform="translate(1480.67,1038.35) scale(0.3195,0.3058)" font-family="'Liberation Serif', serif" font-size="100" font-style="italic" fill="#000" stroke="#000" stroke-width="2.24" stroke-linejoin="round">T</text>
<text transform="translate(1507.15,1038.52) scale(0.3966,0.2744)" font-family="'Liberation Serif', serif" font-size="100" fill="#000" stroke="#000" stroke-width="2.12" stroke-linejoin="round">=</text>
<text transform="translate(1536.16,1038.31) scale(0.3122,0.3047)" font-family="'Liberation Serif', serif" font-size="100" fill="#000" stroke="#000" stroke-width="2.27" stroke-linejoin="round">0.660</text>
<line x1="1483.12" y1="1009.72" x2="1498.92" y2="1009.72" stroke="#000" stroke-width="2.20"/>
<text transform="translate(1459.61,1087.05) scale(0.3110,0.3035)" font-family="'Liberation Serif', serif" font-size="100" fill="#000" stroke="#000" stroke-width="2.28" stroke-linejoin="round">Δ</text>
<text transform="translate(1480.67,1087.05) scale(0.3195,0.3058)" font-family="'Liberation Serif', serif" font-size="100" font-style="italic" fill="#000" stroke="#000" stroke-width="2.24" stroke-linejoin="round">T</text>
<text transform="translate(1507.15,1087.22) scale(0.3966,0.2744)" font-family="'Liberation Serif', serif" font-size="100" fill="#000" stroke="#000" stroke-width="2.12" stroke-linejoin="round">=</text>
<text transform="translate(1536.16,1087.01) scale(0.3122,0.3047)" font-family="'Liberation Serif', serif" font-size="100" fill="#000" stroke="#000" stroke-width="2.27" stroke-linejoin="round">0.757</text>
<line x1="1483.12" y1="1058.42" x2="1498.92" y2="1058.42" stroke="#000" stroke-width="2.20"/>
<text transform="translate(1459.61,1135.75) scale(0.3110,0.3035)" font-family="'Liberation Serif', serif" font-size="100" fill="#000" stroke="#000" stroke-width="2.28" stroke-linejoin="round">Δ</text>
<text transform="translate(1480.67,1135.75) scale(0.3195,0.3058)" font-family="'Liberation Serif', serif" font-size="100" font-style="italic" fill="#000" stroke="#000" stroke-width="2.24" stroke-linejoin="round">T</text>
<text transform="translate(1507.15,1135.92) scale(0.3966,0.2744)" font-family="'Liberation Serif', serif" font-size="100" fill="#000" stroke="#000" stroke-width="2.12" stroke-linejoin="round">=</text>
<text transform="translate(1536.16,1135.71) scale(0.3122,0.3047)" font-family="'Liberation Serif', serif" font-size="100" fill="#000" stroke="#000" stroke-width="2.27" stroke-linejoin="round">1.762</text>
<line x1="1483.12" y1="1107.12" x2="1498.92" y2="1107.12" stroke="#000" stroke-width="2.20"/>
<text transform="translate(968.85,941.75) rotate(-90) translate(-9.82,12.87) scale(0.3888,0.3759)" font-family="'Liberation Serif', serif" font-size="100" font-style="italic" fill="#282828" stroke="#282828" stroke-width="1.57" stroke-linejoin="round">δ</text>
<line x1="947.6" y1="930.8" x2="947.6" y2="950.7" stroke="#555" stroke-width="2.6"/>
<text transform="translate(1375.21,1285.92) scale(0.3857,0.3419)" font-family="'Liberation Serif', serif" font-size="100" font-style="italic" fill="#1c1c1c" stroke="#1c1c1c" stroke-width="3.03" stroke-linejoin="round">r</text>
<line x1="1373.1" y1="1256.8" x2="1392.8999999999999" y2="1256.8" stroke="#303030" stroke-width="2.3"/>
<text transform="translate(1321.26,1344.47) scale(0.3071,0.4396)" font-family="'Liberation Sans', sans-serif" font-size="100" font-weight="bold" fill="#000" stroke="#000" stroke-width="2.72" stroke-linejoin="round">(</text>
<text transform="translate(1335.51,1344.77) scale(0.3980,0.4313)" font-family="'Liberation Sans', sans-serif" font-size="100" font-weight="bold" fill="#000" stroke="#000" stroke-width="2.41" stroke-linejoin="round">d</text>
<text transform="translate(1363.85,1344.47) scale(0.3071,0.4396)" font-family="'Liberation Sans', sans-serif" font-size="100" font-weight="bold" fill="#000" stroke="#000" stroke-width="2.72" stroke-linejoin="round">)</text>
</g>
</svg>
</body></html>
